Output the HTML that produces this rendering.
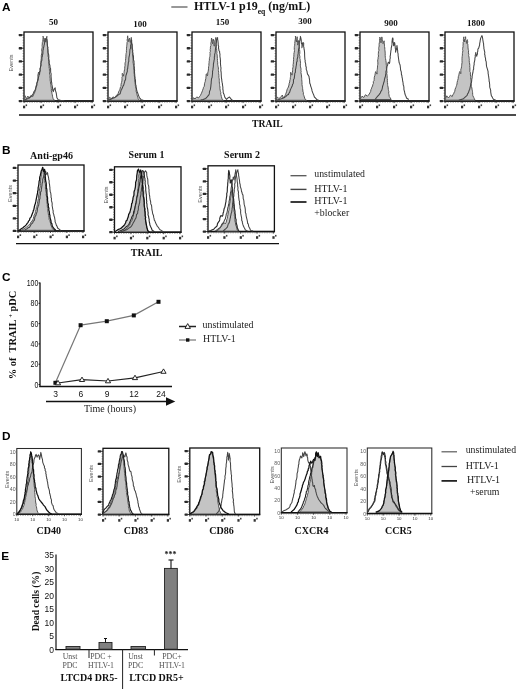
<!DOCTYPE html>
<html><head><meta charset="utf-8"><title>Figure</title>
<style>
html,body{margin:0;padding:0;background:#fff;}
body{width:520px;height:689px;overflow:hidden;font-family:"Liberation Serif",serif;}
svg{display:block;filter:blur(0.4px);}
</style></head>
<body>
<svg width="520" height="689" viewBox="0 0 520 689">
<rect x="0" y="0" width="520" height="689" fill="#fff"/>
<text x="2" y="11.3" font-family="Liberation Sans, sans-serif" font-size="11.8" font-weight="bold" text-anchor="start" fill="#000" >A</text>
<text x="2" y="153.8" font-family="Liberation Sans, sans-serif" font-size="11.8" font-weight="bold" text-anchor="start" fill="#000" >B</text>
<text x="2" y="280.6" font-family="Liberation Sans, sans-serif" font-size="11.8" font-weight="bold" text-anchor="start" fill="#000" >C</text>
<text x="2" y="439.5" font-family="Liberation Sans, sans-serif" font-size="11.8" font-weight="bold" text-anchor="start" fill="#000" >D</text>
<text x="1.3" y="559.8" font-family="Liberation Sans, sans-serif" font-size="11.8" font-weight="bold" text-anchor="start" fill="#000" >E</text>
<line x1="171.3" y1="7" x2="187.5" y2="7" stroke="#444" stroke-width="1.1"/>
<text x="194" y="10" font-family="Liberation Serif, serif" font-size="12" font-weight="bold" fill="#111">HTLV-1 p19<tspan font-size="7.6" dy="4.3">eq</tspan><tspan dy="-4.3"> (ng/mL)</tspan></text>
<text x="53.5" y="25" font-family="Liberation Serif, serif" font-size="9" font-weight="bold" text-anchor="middle" fill="#111" >50</text>
<text x="140" y="27" font-family="Liberation Serif, serif" font-size="9" font-weight="bold" text-anchor="middle" fill="#111" >100</text>
<text x="222.5" y="25" font-family="Liberation Serif, serif" font-size="9" font-weight="bold" text-anchor="middle" fill="#111" >150</text>
<text x="305" y="23.5" font-family="Liberation Serif, serif" font-size="9" font-weight="bold" text-anchor="middle" fill="#111" >300</text>
<text x="391" y="25.5" font-family="Liberation Serif, serif" font-size="9" font-weight="bold" text-anchor="middle" fill="#111" >900</text>
<text x="476" y="25.5" font-family="Liberation Serif, serif" font-size="9" font-weight="bold" text-anchor="middle" fill="#111" >1800</text>
<rect x="24" y="32" width="69" height="69.1" fill="none" stroke="#111" stroke-width="1.3"/>
<line x1="23.5" y1="101.1" x2="93.5" y2="101.1" stroke="#111" stroke-width="1.5"/>
<line x1="21.8" y1="101.1" x2="24" y2="101.1" stroke="#222" stroke-width="0.9"/>
<rect x="18.7" y="99.9" width="3.4" height="2.3" rx="0.6" fill="#2a2a2a"/>
<line x1="21.8" y1="87.9" x2="24" y2="87.9" stroke="#222" stroke-width="0.9"/>
<rect x="18.7" y="86.7" width="3.4" height="2.3" rx="0.6" fill="#2a2a2a"/>
<line x1="21.8" y1="74.7" x2="24" y2="74.7" stroke="#222" stroke-width="0.9"/>
<rect x="18.7" y="73.5" width="3.4" height="2.3" rx="0.6" fill="#2a2a2a"/>
<line x1="21.8" y1="61.4" x2="24" y2="61.4" stroke="#222" stroke-width="0.9"/>
<rect x="18.7" y="60.3" width="3.4" height="2.3" rx="0.6" fill="#2a2a2a"/>
<line x1="21.8" y1="48.2" x2="24" y2="48.2" stroke="#222" stroke-width="0.9"/>
<rect x="18.7" y="47.1" width="3.4" height="2.3" rx="0.6" fill="#2a2a2a"/>
<line x1="21.8" y1="35.0" x2="24" y2="35.0" stroke="#222" stroke-width="0.9"/>
<rect x="18.7" y="33.9" width="3.4" height="2.3" rx="0.6" fill="#2a2a2a"/>
<line x1="22.7" y1="98.5" x2="24" y2="98.5" stroke="#444" stroke-width="0.7"/>
<line x1="22.7" y1="95.8" x2="24" y2="95.8" stroke="#444" stroke-width="0.7"/>
<line x1="22.7" y1="93.2" x2="24" y2="93.2" stroke="#444" stroke-width="0.7"/>
<line x1="22.7" y1="90.5" x2="24" y2="90.5" stroke="#444" stroke-width="0.7"/>
<line x1="22.7" y1="85.2" x2="24" y2="85.2" stroke="#444" stroke-width="0.7"/>
<line x1="22.7" y1="82.6" x2="24" y2="82.6" stroke="#444" stroke-width="0.7"/>
<line x1="22.7" y1="79.9" x2="24" y2="79.9" stroke="#444" stroke-width="0.7"/>
<line x1="22.7" y1="77.3" x2="24" y2="77.3" stroke="#444" stroke-width="0.7"/>
<line x1="22.7" y1="72.0" x2="24" y2="72.0" stroke="#444" stroke-width="0.7"/>
<line x1="22.7" y1="69.4" x2="24" y2="69.4" stroke="#444" stroke-width="0.7"/>
<line x1="22.7" y1="66.7" x2="24" y2="66.7" stroke="#444" stroke-width="0.7"/>
<line x1="22.7" y1="64.1" x2="24" y2="64.1" stroke="#444" stroke-width="0.7"/>
<line x1="22.7" y1="58.8" x2="24" y2="58.8" stroke="#444" stroke-width="0.7"/>
<line x1="22.7" y1="56.2" x2="24" y2="56.2" stroke="#444" stroke-width="0.7"/>
<line x1="22.7" y1="53.5" x2="24" y2="53.5" stroke="#444" stroke-width="0.7"/>
<line x1="22.7" y1="50.9" x2="24" y2="50.9" stroke="#444" stroke-width="0.7"/>
<line x1="22.7" y1="45.6" x2="24" y2="45.6" stroke="#444" stroke-width="0.7"/>
<line x1="22.7" y1="42.9" x2="24" y2="42.9" stroke="#444" stroke-width="0.7"/>
<line x1="22.7" y1="40.3" x2="24" y2="40.3" stroke="#444" stroke-width="0.7"/>
<line x1="22.7" y1="37.6" x2="24" y2="37.6" stroke="#444" stroke-width="0.7"/>
<line x1="24.0" y1="101.1" x2="24.0" y2="103.1" stroke="#222" stroke-width="0.8"/>
<rect x="23.0" y="105.7" width="2.2" height="2.6" fill="#333"/>
<rect x="25.6" y="104.4" width="1.5" height="1.7" fill="#444"/>
<line x1="41.0" y1="101.1" x2="41.0" y2="103.1" stroke="#222" stroke-width="0.8"/>
<rect x="40.0" y="105.7" width="2.2" height="2.6" fill="#333"/>
<rect x="42.6" y="104.4" width="1.5" height="1.7" fill="#444"/>
<line x1="58.0" y1="101.1" x2="58.0" y2="103.1" stroke="#222" stroke-width="0.8"/>
<rect x="57.0" y="105.7" width="2.2" height="2.6" fill="#333"/>
<rect x="59.6" y="104.4" width="1.5" height="1.7" fill="#444"/>
<line x1="75.0" y1="101.1" x2="75.0" y2="103.1" stroke="#222" stroke-width="0.8"/>
<rect x="74.0" y="105.7" width="2.2" height="2.6" fill="#333"/>
<rect x="76.6" y="104.4" width="1.5" height="1.7" fill="#444"/>
<line x1="92.0" y1="101.1" x2="92.0" y2="103.1" stroke="#222" stroke-width="0.8"/>
<rect x="91.0" y="105.7" width="2.2" height="2.6" fill="#333"/>
<rect x="93.6" y="104.4" width="1.5" height="1.7" fill="#444"/>
<line x1="24" y1="102.3" x2="93" y2="102.3" stroke="#666" stroke-width="1" stroke-dasharray="0.5,1.2"/>
<text transform="translate(12.5,63.05) rotate(-90)" font-family="Liberation Sans, sans-serif" font-size="5.6" text-anchor="middle" fill="#555">Events</text>
<rect x="108" y="32" width="69" height="69.1" fill="none" stroke="#111" stroke-width="1.3"/>
<line x1="107.5" y1="101.1" x2="177.5" y2="101.1" stroke="#111" stroke-width="1.5"/>
<line x1="105.8" y1="101.1" x2="108" y2="101.1" stroke="#222" stroke-width="0.9"/>
<rect x="102.7" y="99.9" width="3.4" height="2.3" rx="0.6" fill="#2a2a2a"/>
<line x1="105.8" y1="87.9" x2="108" y2="87.9" stroke="#222" stroke-width="0.9"/>
<rect x="102.7" y="86.7" width="3.4" height="2.3" rx="0.6" fill="#2a2a2a"/>
<line x1="105.8" y1="74.7" x2="108" y2="74.7" stroke="#222" stroke-width="0.9"/>
<rect x="102.7" y="73.5" width="3.4" height="2.3" rx="0.6" fill="#2a2a2a"/>
<line x1="105.8" y1="61.4" x2="108" y2="61.4" stroke="#222" stroke-width="0.9"/>
<rect x="102.7" y="60.3" width="3.4" height="2.3" rx="0.6" fill="#2a2a2a"/>
<line x1="105.8" y1="48.2" x2="108" y2="48.2" stroke="#222" stroke-width="0.9"/>
<rect x="102.7" y="47.1" width="3.4" height="2.3" rx="0.6" fill="#2a2a2a"/>
<line x1="105.8" y1="35.0" x2="108" y2="35.0" stroke="#222" stroke-width="0.9"/>
<rect x="102.7" y="33.9" width="3.4" height="2.3" rx="0.6" fill="#2a2a2a"/>
<line x1="106.7" y1="98.5" x2="108" y2="98.5" stroke="#444" stroke-width="0.7"/>
<line x1="106.7" y1="95.8" x2="108" y2="95.8" stroke="#444" stroke-width="0.7"/>
<line x1="106.7" y1="93.2" x2="108" y2="93.2" stroke="#444" stroke-width="0.7"/>
<line x1="106.7" y1="90.5" x2="108" y2="90.5" stroke="#444" stroke-width="0.7"/>
<line x1="106.7" y1="85.2" x2="108" y2="85.2" stroke="#444" stroke-width="0.7"/>
<line x1="106.7" y1="82.6" x2="108" y2="82.6" stroke="#444" stroke-width="0.7"/>
<line x1="106.7" y1="79.9" x2="108" y2="79.9" stroke="#444" stroke-width="0.7"/>
<line x1="106.7" y1="77.3" x2="108" y2="77.3" stroke="#444" stroke-width="0.7"/>
<line x1="106.7" y1="72.0" x2="108" y2="72.0" stroke="#444" stroke-width="0.7"/>
<line x1="106.7" y1="69.4" x2="108" y2="69.4" stroke="#444" stroke-width="0.7"/>
<line x1="106.7" y1="66.7" x2="108" y2="66.7" stroke="#444" stroke-width="0.7"/>
<line x1="106.7" y1="64.1" x2="108" y2="64.1" stroke="#444" stroke-width="0.7"/>
<line x1="106.7" y1="58.8" x2="108" y2="58.8" stroke="#444" stroke-width="0.7"/>
<line x1="106.7" y1="56.2" x2="108" y2="56.2" stroke="#444" stroke-width="0.7"/>
<line x1="106.7" y1="53.5" x2="108" y2="53.5" stroke="#444" stroke-width="0.7"/>
<line x1="106.7" y1="50.9" x2="108" y2="50.9" stroke="#444" stroke-width="0.7"/>
<line x1="106.7" y1="45.6" x2="108" y2="45.6" stroke="#444" stroke-width="0.7"/>
<line x1="106.7" y1="42.9" x2="108" y2="42.9" stroke="#444" stroke-width="0.7"/>
<line x1="106.7" y1="40.3" x2="108" y2="40.3" stroke="#444" stroke-width="0.7"/>
<line x1="106.7" y1="37.6" x2="108" y2="37.6" stroke="#444" stroke-width="0.7"/>
<line x1="108.0" y1="101.1" x2="108.0" y2="103.1" stroke="#222" stroke-width="0.8"/>
<rect x="107.0" y="105.7" width="2.2" height="2.6" fill="#333"/>
<rect x="109.6" y="104.4" width="1.5" height="1.7" fill="#444"/>
<line x1="125.0" y1="101.1" x2="125.0" y2="103.1" stroke="#222" stroke-width="0.8"/>
<rect x="124.0" y="105.7" width="2.2" height="2.6" fill="#333"/>
<rect x="126.6" y="104.4" width="1.5" height="1.7" fill="#444"/>
<line x1="142.0" y1="101.1" x2="142.0" y2="103.1" stroke="#222" stroke-width="0.8"/>
<rect x="141.0" y="105.7" width="2.2" height="2.6" fill="#333"/>
<rect x="143.6" y="104.4" width="1.5" height="1.7" fill="#444"/>
<line x1="159.0" y1="101.1" x2="159.0" y2="103.1" stroke="#222" stroke-width="0.8"/>
<rect x="158.0" y="105.7" width="2.2" height="2.6" fill="#333"/>
<rect x="160.6" y="104.4" width="1.5" height="1.7" fill="#444"/>
<line x1="176.0" y1="101.1" x2="176.0" y2="103.1" stroke="#222" stroke-width="0.8"/>
<rect x="175.0" y="105.7" width="2.2" height="2.6" fill="#333"/>
<rect x="177.6" y="104.4" width="1.5" height="1.7" fill="#444"/>
<line x1="108" y1="102.3" x2="177" y2="102.3" stroke="#666" stroke-width="1" stroke-dasharray="0.5,1.2"/>
<rect x="192" y="32" width="69" height="69.1" fill="none" stroke="#111" stroke-width="1.3"/>
<line x1="191.5" y1="101.1" x2="261.5" y2="101.1" stroke="#111" stroke-width="1.5"/>
<line x1="189.8" y1="101.1" x2="192" y2="101.1" stroke="#222" stroke-width="0.9"/>
<rect x="186.7" y="99.9" width="3.4" height="2.3" rx="0.6" fill="#2a2a2a"/>
<line x1="189.8" y1="87.9" x2="192" y2="87.9" stroke="#222" stroke-width="0.9"/>
<rect x="186.7" y="86.7" width="3.4" height="2.3" rx="0.6" fill="#2a2a2a"/>
<line x1="189.8" y1="74.7" x2="192" y2="74.7" stroke="#222" stroke-width="0.9"/>
<rect x="186.7" y="73.5" width="3.4" height="2.3" rx="0.6" fill="#2a2a2a"/>
<line x1="189.8" y1="61.4" x2="192" y2="61.4" stroke="#222" stroke-width="0.9"/>
<rect x="186.7" y="60.3" width="3.4" height="2.3" rx="0.6" fill="#2a2a2a"/>
<line x1="189.8" y1="48.2" x2="192" y2="48.2" stroke="#222" stroke-width="0.9"/>
<rect x="186.7" y="47.1" width="3.4" height="2.3" rx="0.6" fill="#2a2a2a"/>
<line x1="189.8" y1="35.0" x2="192" y2="35.0" stroke="#222" stroke-width="0.9"/>
<rect x="186.7" y="33.9" width="3.4" height="2.3" rx="0.6" fill="#2a2a2a"/>
<line x1="190.7" y1="98.5" x2="192" y2="98.5" stroke="#444" stroke-width="0.7"/>
<line x1="190.7" y1="95.8" x2="192" y2="95.8" stroke="#444" stroke-width="0.7"/>
<line x1="190.7" y1="93.2" x2="192" y2="93.2" stroke="#444" stroke-width="0.7"/>
<line x1="190.7" y1="90.5" x2="192" y2="90.5" stroke="#444" stroke-width="0.7"/>
<line x1="190.7" y1="85.2" x2="192" y2="85.2" stroke="#444" stroke-width="0.7"/>
<line x1="190.7" y1="82.6" x2="192" y2="82.6" stroke="#444" stroke-width="0.7"/>
<line x1="190.7" y1="79.9" x2="192" y2="79.9" stroke="#444" stroke-width="0.7"/>
<line x1="190.7" y1="77.3" x2="192" y2="77.3" stroke="#444" stroke-width="0.7"/>
<line x1="190.7" y1="72.0" x2="192" y2="72.0" stroke="#444" stroke-width="0.7"/>
<line x1="190.7" y1="69.4" x2="192" y2="69.4" stroke="#444" stroke-width="0.7"/>
<line x1="190.7" y1="66.7" x2="192" y2="66.7" stroke="#444" stroke-width="0.7"/>
<line x1="190.7" y1="64.1" x2="192" y2="64.1" stroke="#444" stroke-width="0.7"/>
<line x1="190.7" y1="58.8" x2="192" y2="58.8" stroke="#444" stroke-width="0.7"/>
<line x1="190.7" y1="56.2" x2="192" y2="56.2" stroke="#444" stroke-width="0.7"/>
<line x1="190.7" y1="53.5" x2="192" y2="53.5" stroke="#444" stroke-width="0.7"/>
<line x1="190.7" y1="50.9" x2="192" y2="50.9" stroke="#444" stroke-width="0.7"/>
<line x1="190.7" y1="45.6" x2="192" y2="45.6" stroke="#444" stroke-width="0.7"/>
<line x1="190.7" y1="42.9" x2="192" y2="42.9" stroke="#444" stroke-width="0.7"/>
<line x1="190.7" y1="40.3" x2="192" y2="40.3" stroke="#444" stroke-width="0.7"/>
<line x1="190.7" y1="37.6" x2="192" y2="37.6" stroke="#444" stroke-width="0.7"/>
<line x1="192.0" y1="101.1" x2="192.0" y2="103.1" stroke="#222" stroke-width="0.8"/>
<rect x="191.0" y="105.7" width="2.2" height="2.6" fill="#333"/>
<rect x="193.6" y="104.4" width="1.5" height="1.7" fill="#444"/>
<line x1="209.0" y1="101.1" x2="209.0" y2="103.1" stroke="#222" stroke-width="0.8"/>
<rect x="208.0" y="105.7" width="2.2" height="2.6" fill="#333"/>
<rect x="210.6" y="104.4" width="1.5" height="1.7" fill="#444"/>
<line x1="226.0" y1="101.1" x2="226.0" y2="103.1" stroke="#222" stroke-width="0.8"/>
<rect x="225.0" y="105.7" width="2.2" height="2.6" fill="#333"/>
<rect x="227.6" y="104.4" width="1.5" height="1.7" fill="#444"/>
<line x1="243.0" y1="101.1" x2="243.0" y2="103.1" stroke="#222" stroke-width="0.8"/>
<rect x="242.0" y="105.7" width="2.2" height="2.6" fill="#333"/>
<rect x="244.6" y="104.4" width="1.5" height="1.7" fill="#444"/>
<line x1="260.0" y1="101.1" x2="260.0" y2="103.1" stroke="#222" stroke-width="0.8"/>
<rect x="259.0" y="105.7" width="2.2" height="2.6" fill="#333"/>
<rect x="261.6" y="104.4" width="1.5" height="1.7" fill="#444"/>
<line x1="192" y1="102.3" x2="261" y2="102.3" stroke="#666" stroke-width="1" stroke-dasharray="0.5,1.2"/>
<rect x="276" y="32" width="69" height="69.1" fill="none" stroke="#111" stroke-width="1.3"/>
<line x1="275.5" y1="101.1" x2="345.5" y2="101.1" stroke="#111" stroke-width="1.5"/>
<line x1="273.8" y1="101.1" x2="276" y2="101.1" stroke="#222" stroke-width="0.9"/>
<rect x="270.7" y="99.9" width="3.4" height="2.3" rx="0.6" fill="#2a2a2a"/>
<line x1="273.8" y1="87.9" x2="276" y2="87.9" stroke="#222" stroke-width="0.9"/>
<rect x="270.7" y="86.7" width="3.4" height="2.3" rx="0.6" fill="#2a2a2a"/>
<line x1="273.8" y1="74.7" x2="276" y2="74.7" stroke="#222" stroke-width="0.9"/>
<rect x="270.7" y="73.5" width="3.4" height="2.3" rx="0.6" fill="#2a2a2a"/>
<line x1="273.8" y1="61.4" x2="276" y2="61.4" stroke="#222" stroke-width="0.9"/>
<rect x="270.7" y="60.3" width="3.4" height="2.3" rx="0.6" fill="#2a2a2a"/>
<line x1="273.8" y1="48.2" x2="276" y2="48.2" stroke="#222" stroke-width="0.9"/>
<rect x="270.7" y="47.1" width="3.4" height="2.3" rx="0.6" fill="#2a2a2a"/>
<line x1="273.8" y1="35.0" x2="276" y2="35.0" stroke="#222" stroke-width="0.9"/>
<rect x="270.7" y="33.9" width="3.4" height="2.3" rx="0.6" fill="#2a2a2a"/>
<line x1="274.7" y1="98.5" x2="276" y2="98.5" stroke="#444" stroke-width="0.7"/>
<line x1="274.7" y1="95.8" x2="276" y2="95.8" stroke="#444" stroke-width="0.7"/>
<line x1="274.7" y1="93.2" x2="276" y2="93.2" stroke="#444" stroke-width="0.7"/>
<line x1="274.7" y1="90.5" x2="276" y2="90.5" stroke="#444" stroke-width="0.7"/>
<line x1="274.7" y1="85.2" x2="276" y2="85.2" stroke="#444" stroke-width="0.7"/>
<line x1="274.7" y1="82.6" x2="276" y2="82.6" stroke="#444" stroke-width="0.7"/>
<line x1="274.7" y1="79.9" x2="276" y2="79.9" stroke="#444" stroke-width="0.7"/>
<line x1="274.7" y1="77.3" x2="276" y2="77.3" stroke="#444" stroke-width="0.7"/>
<line x1="274.7" y1="72.0" x2="276" y2="72.0" stroke="#444" stroke-width="0.7"/>
<line x1="274.7" y1="69.4" x2="276" y2="69.4" stroke="#444" stroke-width="0.7"/>
<line x1="274.7" y1="66.7" x2="276" y2="66.7" stroke="#444" stroke-width="0.7"/>
<line x1="274.7" y1="64.1" x2="276" y2="64.1" stroke="#444" stroke-width="0.7"/>
<line x1="274.7" y1="58.8" x2="276" y2="58.8" stroke="#444" stroke-width="0.7"/>
<line x1="274.7" y1="56.2" x2="276" y2="56.2" stroke="#444" stroke-width="0.7"/>
<line x1="274.7" y1="53.5" x2="276" y2="53.5" stroke="#444" stroke-width="0.7"/>
<line x1="274.7" y1="50.9" x2="276" y2="50.9" stroke="#444" stroke-width="0.7"/>
<line x1="274.7" y1="45.6" x2="276" y2="45.6" stroke="#444" stroke-width="0.7"/>
<line x1="274.7" y1="42.9" x2="276" y2="42.9" stroke="#444" stroke-width="0.7"/>
<line x1="274.7" y1="40.3" x2="276" y2="40.3" stroke="#444" stroke-width="0.7"/>
<line x1="274.7" y1="37.6" x2="276" y2="37.6" stroke="#444" stroke-width="0.7"/>
<line x1="276.0" y1="101.1" x2="276.0" y2="103.1" stroke="#222" stroke-width="0.8"/>
<rect x="275.0" y="105.7" width="2.2" height="2.6" fill="#333"/>
<rect x="277.6" y="104.4" width="1.5" height="1.7" fill="#444"/>
<line x1="293.0" y1="101.1" x2="293.0" y2="103.1" stroke="#222" stroke-width="0.8"/>
<rect x="292.0" y="105.7" width="2.2" height="2.6" fill="#333"/>
<rect x="294.6" y="104.4" width="1.5" height="1.7" fill="#444"/>
<line x1="310.0" y1="101.1" x2="310.0" y2="103.1" stroke="#222" stroke-width="0.8"/>
<rect x="309.0" y="105.7" width="2.2" height="2.6" fill="#333"/>
<rect x="311.6" y="104.4" width="1.5" height="1.7" fill="#444"/>
<line x1="327.0" y1="101.1" x2="327.0" y2="103.1" stroke="#222" stroke-width="0.8"/>
<rect x="326.0" y="105.7" width="2.2" height="2.6" fill="#333"/>
<rect x="328.6" y="104.4" width="1.5" height="1.7" fill="#444"/>
<line x1="344.0" y1="101.1" x2="344.0" y2="103.1" stroke="#222" stroke-width="0.8"/>
<rect x="343.0" y="105.7" width="2.2" height="2.6" fill="#333"/>
<rect x="345.6" y="104.4" width="1.5" height="1.7" fill="#444"/>
<line x1="276" y1="102.3" x2="345" y2="102.3" stroke="#666" stroke-width="1" stroke-dasharray="0.5,1.2"/>
<rect x="360" y="32" width="69" height="69.1" fill="none" stroke="#111" stroke-width="1.3"/>
<line x1="359.5" y1="101.1" x2="429.5" y2="101.1" stroke="#111" stroke-width="1.5"/>
<line x1="357.8" y1="101.1" x2="360" y2="101.1" stroke="#222" stroke-width="0.9"/>
<rect x="354.7" y="99.9" width="3.4" height="2.3" rx="0.6" fill="#2a2a2a"/>
<line x1="357.8" y1="87.9" x2="360" y2="87.9" stroke="#222" stroke-width="0.9"/>
<rect x="354.7" y="86.7" width="3.4" height="2.3" rx="0.6" fill="#2a2a2a"/>
<line x1="357.8" y1="74.7" x2="360" y2="74.7" stroke="#222" stroke-width="0.9"/>
<rect x="354.7" y="73.5" width="3.4" height="2.3" rx="0.6" fill="#2a2a2a"/>
<line x1="357.8" y1="61.4" x2="360" y2="61.4" stroke="#222" stroke-width="0.9"/>
<rect x="354.7" y="60.3" width="3.4" height="2.3" rx="0.6" fill="#2a2a2a"/>
<line x1="357.8" y1="48.2" x2="360" y2="48.2" stroke="#222" stroke-width="0.9"/>
<rect x="354.7" y="47.1" width="3.4" height="2.3" rx="0.6" fill="#2a2a2a"/>
<line x1="357.8" y1="35.0" x2="360" y2="35.0" stroke="#222" stroke-width="0.9"/>
<rect x="354.7" y="33.9" width="3.4" height="2.3" rx="0.6" fill="#2a2a2a"/>
<line x1="358.7" y1="98.5" x2="360" y2="98.5" stroke="#444" stroke-width="0.7"/>
<line x1="358.7" y1="95.8" x2="360" y2="95.8" stroke="#444" stroke-width="0.7"/>
<line x1="358.7" y1="93.2" x2="360" y2="93.2" stroke="#444" stroke-width="0.7"/>
<line x1="358.7" y1="90.5" x2="360" y2="90.5" stroke="#444" stroke-width="0.7"/>
<line x1="358.7" y1="85.2" x2="360" y2="85.2" stroke="#444" stroke-width="0.7"/>
<line x1="358.7" y1="82.6" x2="360" y2="82.6" stroke="#444" stroke-width="0.7"/>
<line x1="358.7" y1="79.9" x2="360" y2="79.9" stroke="#444" stroke-width="0.7"/>
<line x1="358.7" y1="77.3" x2="360" y2="77.3" stroke="#444" stroke-width="0.7"/>
<line x1="358.7" y1="72.0" x2="360" y2="72.0" stroke="#444" stroke-width="0.7"/>
<line x1="358.7" y1="69.4" x2="360" y2="69.4" stroke="#444" stroke-width="0.7"/>
<line x1="358.7" y1="66.7" x2="360" y2="66.7" stroke="#444" stroke-width="0.7"/>
<line x1="358.7" y1="64.1" x2="360" y2="64.1" stroke="#444" stroke-width="0.7"/>
<line x1="358.7" y1="58.8" x2="360" y2="58.8" stroke="#444" stroke-width="0.7"/>
<line x1="358.7" y1="56.2" x2="360" y2="56.2" stroke="#444" stroke-width="0.7"/>
<line x1="358.7" y1="53.5" x2="360" y2="53.5" stroke="#444" stroke-width="0.7"/>
<line x1="358.7" y1="50.9" x2="360" y2="50.9" stroke="#444" stroke-width="0.7"/>
<line x1="358.7" y1="45.6" x2="360" y2="45.6" stroke="#444" stroke-width="0.7"/>
<line x1="358.7" y1="42.9" x2="360" y2="42.9" stroke="#444" stroke-width="0.7"/>
<line x1="358.7" y1="40.3" x2="360" y2="40.3" stroke="#444" stroke-width="0.7"/>
<line x1="358.7" y1="37.6" x2="360" y2="37.6" stroke="#444" stroke-width="0.7"/>
<line x1="360.0" y1="101.1" x2="360.0" y2="103.1" stroke="#222" stroke-width="0.8"/>
<rect x="359.0" y="105.7" width="2.2" height="2.6" fill="#333"/>
<rect x="361.6" y="104.4" width="1.5" height="1.7" fill="#444"/>
<line x1="377.0" y1="101.1" x2="377.0" y2="103.1" stroke="#222" stroke-width="0.8"/>
<rect x="376.0" y="105.7" width="2.2" height="2.6" fill="#333"/>
<rect x="378.6" y="104.4" width="1.5" height="1.7" fill="#444"/>
<line x1="394.0" y1="101.1" x2="394.0" y2="103.1" stroke="#222" stroke-width="0.8"/>
<rect x="393.0" y="105.7" width="2.2" height="2.6" fill="#333"/>
<rect x="395.6" y="104.4" width="1.5" height="1.7" fill="#444"/>
<line x1="411.0" y1="101.1" x2="411.0" y2="103.1" stroke="#222" stroke-width="0.8"/>
<rect x="410.0" y="105.7" width="2.2" height="2.6" fill="#333"/>
<rect x="412.6" y="104.4" width="1.5" height="1.7" fill="#444"/>
<line x1="428.0" y1="101.1" x2="428.0" y2="103.1" stroke="#222" stroke-width="0.8"/>
<rect x="427.0" y="105.7" width="2.2" height="2.6" fill="#333"/>
<rect x="429.6" y="104.4" width="1.5" height="1.7" fill="#444"/>
<line x1="360" y1="102.3" x2="429" y2="102.3" stroke="#666" stroke-width="1" stroke-dasharray="0.5,1.2"/>
<rect x="445" y="32" width="69" height="69.1" fill="none" stroke="#111" stroke-width="1.3"/>
<line x1="444.5" y1="101.1" x2="514.5" y2="101.1" stroke="#111" stroke-width="1.5"/>
<line x1="442.8" y1="101.1" x2="445" y2="101.1" stroke="#222" stroke-width="0.9"/>
<rect x="439.7" y="99.9" width="3.4" height="2.3" rx="0.6" fill="#2a2a2a"/>
<line x1="442.8" y1="87.9" x2="445" y2="87.9" stroke="#222" stroke-width="0.9"/>
<rect x="439.7" y="86.7" width="3.4" height="2.3" rx="0.6" fill="#2a2a2a"/>
<line x1="442.8" y1="74.7" x2="445" y2="74.7" stroke="#222" stroke-width="0.9"/>
<rect x="439.7" y="73.5" width="3.4" height="2.3" rx="0.6" fill="#2a2a2a"/>
<line x1="442.8" y1="61.4" x2="445" y2="61.4" stroke="#222" stroke-width="0.9"/>
<rect x="439.7" y="60.3" width="3.4" height="2.3" rx="0.6" fill="#2a2a2a"/>
<line x1="442.8" y1="48.2" x2="445" y2="48.2" stroke="#222" stroke-width="0.9"/>
<rect x="439.7" y="47.1" width="3.4" height="2.3" rx="0.6" fill="#2a2a2a"/>
<line x1="442.8" y1="35.0" x2="445" y2="35.0" stroke="#222" stroke-width="0.9"/>
<rect x="439.7" y="33.9" width="3.4" height="2.3" rx="0.6" fill="#2a2a2a"/>
<line x1="443.7" y1="98.5" x2="445" y2="98.5" stroke="#444" stroke-width="0.7"/>
<line x1="443.7" y1="95.8" x2="445" y2="95.8" stroke="#444" stroke-width="0.7"/>
<line x1="443.7" y1="93.2" x2="445" y2="93.2" stroke="#444" stroke-width="0.7"/>
<line x1="443.7" y1="90.5" x2="445" y2="90.5" stroke="#444" stroke-width="0.7"/>
<line x1="443.7" y1="85.2" x2="445" y2="85.2" stroke="#444" stroke-width="0.7"/>
<line x1="443.7" y1="82.6" x2="445" y2="82.6" stroke="#444" stroke-width="0.7"/>
<line x1="443.7" y1="79.9" x2="445" y2="79.9" stroke="#444" stroke-width="0.7"/>
<line x1="443.7" y1="77.3" x2="445" y2="77.3" stroke="#444" stroke-width="0.7"/>
<line x1="443.7" y1="72.0" x2="445" y2="72.0" stroke="#444" stroke-width="0.7"/>
<line x1="443.7" y1="69.4" x2="445" y2="69.4" stroke="#444" stroke-width="0.7"/>
<line x1="443.7" y1="66.7" x2="445" y2="66.7" stroke="#444" stroke-width="0.7"/>
<line x1="443.7" y1="64.1" x2="445" y2="64.1" stroke="#444" stroke-width="0.7"/>
<line x1="443.7" y1="58.8" x2="445" y2="58.8" stroke="#444" stroke-width="0.7"/>
<line x1="443.7" y1="56.2" x2="445" y2="56.2" stroke="#444" stroke-width="0.7"/>
<line x1="443.7" y1="53.5" x2="445" y2="53.5" stroke="#444" stroke-width="0.7"/>
<line x1="443.7" y1="50.9" x2="445" y2="50.9" stroke="#444" stroke-width="0.7"/>
<line x1="443.7" y1="45.6" x2="445" y2="45.6" stroke="#444" stroke-width="0.7"/>
<line x1="443.7" y1="42.9" x2="445" y2="42.9" stroke="#444" stroke-width="0.7"/>
<line x1="443.7" y1="40.3" x2="445" y2="40.3" stroke="#444" stroke-width="0.7"/>
<line x1="443.7" y1="37.6" x2="445" y2="37.6" stroke="#444" stroke-width="0.7"/>
<line x1="445.0" y1="101.1" x2="445.0" y2="103.1" stroke="#222" stroke-width="0.8"/>
<rect x="444.0" y="105.7" width="2.2" height="2.6" fill="#333"/>
<rect x="446.6" y="104.4" width="1.5" height="1.7" fill="#444"/>
<line x1="462.0" y1="101.1" x2="462.0" y2="103.1" stroke="#222" stroke-width="0.8"/>
<rect x="461.0" y="105.7" width="2.2" height="2.6" fill="#333"/>
<rect x="463.6" y="104.4" width="1.5" height="1.7" fill="#444"/>
<line x1="479.0" y1="101.1" x2="479.0" y2="103.1" stroke="#222" stroke-width="0.8"/>
<rect x="478.0" y="105.7" width="2.2" height="2.6" fill="#333"/>
<rect x="480.6" y="104.4" width="1.5" height="1.7" fill="#444"/>
<line x1="496.0" y1="101.1" x2="496.0" y2="103.1" stroke="#222" stroke-width="0.8"/>
<rect x="495.0" y="105.7" width="2.2" height="2.6" fill="#333"/>
<rect x="497.6" y="104.4" width="1.5" height="1.7" fill="#444"/>
<line x1="513.0" y1="101.1" x2="513.0" y2="103.1" stroke="#222" stroke-width="0.8"/>
<rect x="512.0" y="105.7" width="2.2" height="2.6" fill="#333"/>
<rect x="514.6" y="104.4" width="1.5" height="1.7" fill="#444"/>
<line x1="445" y1="102.3" x2="514" y2="102.3" stroke="#666" stroke-width="1" stroke-dasharray="0.5,1.2"/>
<line x1="19" y1="115" x2="516" y2="115" stroke="#111" stroke-width="1.4"/>
<text x="267.4" y="127.2" font-family="Liberation Serif, serif" font-size="9.7" font-weight="bold" text-anchor="middle" fill="#111" >TRAIL</text>
<path d="M24.0,100.3 L24.4,98.8 L24.7,97.2 L25.0,95.7 L25.7,97.4 L26.4,98.6 L27.1,97.4 L27.9,96.1 L28.5,97.2 L29.2,98.4 L30.1,97.0 L30.8,95.5 L32.7,96.7 L33.5,94.8 L34.4,93.2 L34.9,91.9 L35.3,90.7 L35.7,89.9 L35.9,87.8 L36.3,87.3 L36.8,85.2 L36.9,84.3 L36.9,83.4 L37.4,81.5 L37.6,80.0 L37.7,78.6 L38.0,78.0 L37.9,76.8 L37.9,74.8 L38.2,73.9 L38.5,72.1 L39.1,73.9 L39.5,74.9 L39.7,73.2 L39.9,72.0 L40.2,70.7 L40.1,69.8 L40.3,67.9 L40.8,66.7 L40.8,64.8 L40.6,63.6 L40.9,62.8 L41.0,60.8 L41.1,59.5 L41.3,58.4 L41.3,57.2 L41.3,55.3 L41.7,54.0 L41.9,52.9 L41.9,51.7 L41.7,50.9 L41.9,48.5 L42.2,47.6 L42.2,46.6 L42.1,45.5 L42.3,44.0 L42.3,42.7 L42.8,41.3 L42.9,39.8 L43.2,37.4 L43.0,36.2 L43.4,37.7 L43.5,38.8 L43.9,39.7 L43.9,41.4 L44.6,39.6 L44.9,38.2 L45.2,39.3 L45.4,40.6 L45.6,42.2 L46.1,41.2 L46.0,39.7 L46.4,38.0 L46.9,36.3 L46.8,38.5 L46.8,40.0 L47.0,41.0 L47.2,43.0 L47.3,43.7 L47.5,46.2 L47.7,47.5 L47.5,48.1 L47.9,49.7 L48.0,50.8 L47.9,52.6 L48.2,53.7 L48.0,55.2 L48.1,56.5 L48.5,57.3 L48.4,59.1 L48.6,59.8 L48.7,61.7 L48.9,63.1 L48.9,64.3 L48.9,65.1 L49.1,66.5 L49.1,68.2 L49.4,68.6 L49.4,70.2 L49.7,71.3 L49.5,72.8 L49.7,74.6 L50.0,75.4 L49.9,76.8 L50.2,78.9 L50.1,80.1 L50.4,81.6 L50.5,83.0 L50.8,84.4 L50.9,85.4 L51.2,87.2 L51.3,88.6 L51.4,89.0 L51.3,90.9 L51.8,92.0 L52.0,93.7 L52.2,94.3 L52.5,96.2 L52.7,97.2 L53.1,98.6 L54.4,100.3 Z" fill="#c4c4c4" stroke="#555" stroke-width="1.0" stroke-linejoin="round"/>
<path d="M24.0,100.3 L25.3,99.7 L26.7,99.0 L28.0,98.4 L29.2,97.8 L30.7,96.8 L31.9,95.7 L32.7,94.7 L33.4,93.3 L34.2,91.3 L35.0,90.3 L35.4,89.1 L35.8,87.6 L36.0,86.0 L36.7,85.2 L36.8,83.4 L37.4,81.8 L38.0,80.3 L38.4,78.7 L38.3,78.0 L38.9,75.9 L39.1,74.1 L39.3,73.7 L39.5,72.0 L40.2,70.6 L40.0,68.8 L40.5,67.4 L40.5,66.0 L41.1,65.2 L41.0,63.8 L41.1,62.8 L41.3,61.4 L41.9,60.2 L41.9,58.2 L41.9,57.6 L42.5,55.9 L42.3,55.4 L42.9,53.8 L42.9,51.9 L43.0,50.3 L43.3,49.6 L43.3,48.3 L43.9,46.5 L44.0,45.4 L44.5,43.9 L44.3,42.8 L44.7,41.8 L45.2,40.1 L45.7,38.8 L46.9,39.3 L47.1,40.6 L47.2,41.8 L47.3,43.9 L47.3,45.1 L47.5,46.5 L47.9,47.2 L47.8,48.8 L47.9,50.8 L48.0,52.0 L48.2,53.6 L48.6,54.2 L48.8,55.8 L48.8,58.0 L48.7,58.2 L48.9,59.7 L49.3,61.5 L49.1,62.5 L49.3,64.0 L49.9,65.2 L50.1,67.6 L50.6,68.8 L50.6,70.7 L50.7,72.4 L51.1,73.7 L51.1,75.3 L51.0,75.9 L51.2,77.8 L51.3,79.4 L51.4,81.0 L51.5,81.6 L51.8,83.4 L51.8,84.7 L52.3,86.2 L52.4,87.7 L52.6,88.5 L52.8,90.7 L53.3,91.6 L53.5,90.8 L54.1,89.2 L55.2,87.9 L55.3,89.8 L55.7,91.3 L56.1,92.5 L56.3,93.4 L56.5,95.0 L56.7,96.2 L56.9,97.8 L58.2,99.8 L59.6,100.1 L60.8,100.4 L62.6,100.4 L64.3,100.4" fill="none" stroke="#444" stroke-width="1.05" stroke-linejoin="round"/>
<path d="M108.3,100.3 L108.9,98.8 L109.5,97.3 L111.3,98.6 L112.9,96.9 L114.7,97.7 L115.7,96.2 L116.3,95.4 L118.2,93.7 L118.6,91.8 L119.3,90.6 L120.0,89.2 L120.4,87.1 L121.0,86.5 L121.0,84.6 L121.5,82.4 L121.7,82.1 L122.0,80.1 L122.0,78.7 L121.9,77.5 L122.4,76.3 L122.2,74.4 L122.3,73.3 L123.2,74.7 L123.7,76.2 L123.7,75.1 L124.0,73.5 L124.1,72.3 L124.2,71.2 L124.7,69.2 L124.7,68.7 L124.8,66.8 L125.1,65.3 L125.0,63.9 L125.1,62.8 L125.6,61.7 L125.5,60.5 L125.7,58.7 L125.9,56.9 L125.9,56.0 L126.0,54.3 L126.1,53.5 L126.4,52.5 L126.4,50.5 L126.5,49.9 L126.5,48.2 L126.7,46.7 L126.8,45.3 L127.0,44.1 L127.0,42.7 L127.4,41.4 L127.1,40.0 L127.5,38.3 L127.4,37.0 L127.7,35.8 L127.9,38.1 L128.1,38.8 L128.3,40.1 L128.7,41.7 L128.9,39.9 L129.6,38.1 L129.6,39.0 L130.1,41.0 L130.3,42.5 L130.5,41.4 L130.9,40.0 L131.1,38.3 L131.3,37.4 L131.4,38.1 L131.6,40.3 L131.4,42.0 L131.4,43.1 L131.9,44.4 L131.8,45.4 L131.8,46.6 L131.9,48.0 L132.3,50.2 L132.4,50.9 L132.4,52.5 L132.6,53.5 L132.5,54.9 L132.8,56.0 L132.7,57.6 L133.1,58.9 L133.1,60.4 L133.1,60.9 L133.0,62.2 L133.3,63.7 L133.5,65.5 L133.6,66.3 L133.7,67.8 L133.8,68.9 L134.0,70.2 L134.0,71.7 L134.1,73.0 L134.3,74.5 L134.3,75.9 L134.6,77.2 L134.7,78.9 L134.9,79.3 L134.7,81.6 L135.0,82.5 L135.3,84.4 L135.3,85.3 L135.5,86.5 L136.1,88.5 L136.2,89.1 L136.1,91.2 L136.4,92.1 L136.8,93.8 L136.9,94.3 L137.4,96.1 L137.8,97.2 L138.1,98.6 L139.4,100.3 Z" fill="#c4c4c4" stroke="#555" stroke-width="1.0" stroke-linejoin="round"/>
<path d="M108.3,100.3 L109.6,99.7 L110.8,99.2 L112.1,98.5 L113.6,97.9 L115.0,97.4 L116.4,96.6 L117.7,95.4 L118.6,94.6 L120.1,93.8 L120.6,92.2 L121.0,90.4 L121.6,89.5 L122.4,87.8 L123.0,86.1 L123.7,85.1 L124.1,83.6 L124.6,82.1 L124.8,80.7 L125.5,79.9 L125.7,78.3 L125.8,76.4 L126.1,74.9 L126.5,74.1 L126.8,72.8 L127.3,71.5 L127.3,69.1 L127.7,68.7 L127.8,67.3 L128.1,64.9 L128.2,64.2 L128.4,62.0 L128.8,61.6 L128.8,59.2 L128.9,57.7 L129.1,57.0 L129.4,55.3 L129.7,53.5 L129.8,52.0 L129.9,50.5 L130.0,49.3 L130.4,48.7 L130.6,46.6 L130.6,45.1 L130.9,44.4 L131.4,41.9 L131.6,40.3 L131.7,42.3 L131.8,43.1 L132.1,44.3 L132.3,45.8 L132.3,47.4 L132.5,49.4 L132.8,50.3 L132.6,51.3 L133.0,53.5 L132.9,54.1 L133.4,56.1 L133.5,57.0 L133.5,59.2 L133.4,60.1 L134.0,61.1 L134.0,62.8 L134.2,64.2 L134.0,66.1 L134.4,67.0 L134.3,68.4 L134.6,70.3 L134.5,71.8 L134.6,73.6 L134.7,74.1 L134.8,76.0 L135.0,77.1 L135.0,79.0 L135.5,80.2 L135.5,82.3 L135.6,83.3 L135.5,84.1 L136.0,85.4 L136.2,87.5 L136.3,88.2 L136.7,90.1 L137.1,91.4 L137.5,92.5 L138.2,94.4 L138.8,96.1 L139.5,97.8 L140.3,98.7 L141.2,99.8 L143.3,100.3" fill="none" stroke="#444" stroke-width="1.05" stroke-linejoin="round"/>
<path d="M192.3,100.3 L193.0,99.0 L193.6,97.7 L195.0,99.0 L195.9,97.9 L196.8,96.9 L198.5,98.0 L199.3,96.8 L200.3,95.7 L201.2,93.8 L202.0,92.0 L202.3,91.0 L202.6,90.3 L203.4,88.1 L203.5,87.3 L204.3,86.3 L204.5,83.8 L204.9,82.3 L205.3,81.4 L205.4,80.1 L205.9,78.3 L205.9,77.2 L206.1,76.1 L206.1,74.6 L206.7,73.7 L207.0,75.3 L207.4,75.9 L207.7,74.9 L207.7,73.0 L208.0,72.0 L208.2,71.2 L208.5,69.0 L208.5,68.2 L208.6,66.6 L208.9,65.5 L208.9,63.9 L209.1,62.7 L209.1,61.3 L209.4,60.3 L209.4,58.7 L209.5,57.6 L209.9,56.5 L210.0,55.3 L210.1,53.6 L209.9,52.5 L210.4,51.7 L210.2,49.5 L210.4,49.1 L210.4,47.2 L210.8,45.6 L211.1,45.3 L210.8,43.4 L211.2,41.9 L211.3,41.1 L211.4,39.0 L211.5,38.0 L211.9,39.2 L211.8,41.4 L212.3,42.3 L212.5,43.8 L212.6,42.8 L212.6,41.7 L212.9,39.9 L213.3,39.0 L213.5,39.8 L213.4,41.5 L213.9,42.9 L213.9,44.4 L214.3,46.2 L214.2,44.8 L214.7,43.3 L214.7,42.2 L214.9,40.4 L215.4,39.5 L215.9,37.4 L216.0,39.8 L216.2,41.1 L216.2,42.1 L216.0,43.3 L216.2,44.6 L216.5,46.6 L216.5,47.5 L216.6,48.4 L216.7,50.3 L216.8,51.1 L217.0,52.5 L216.8,53.6 L217.2,55.1 L217.3,56.9 L217.3,58.4 L217.5,58.7 L217.4,60.4 L217.6,61.9 L217.7,62.8 L217.7,64.8 L217.9,65.5 L218.1,66.6 L218.4,67.9 L218.4,69.6 L218.4,70.5 L218.7,72.3 L218.6,73.2 L218.9,75.1 L218.9,75.7 L218.9,77.6 L219.2,78.8 L219.3,80.6 L219.3,81.7 L219.4,83.2 L219.6,84.4 L219.6,85.6 L220.0,87.0 L219.9,88.3 L220.2,90.2 L220.5,91.7 L220.8,92.4 L220.7,94.1 L221.0,94.8 L221.4,96.7 L221.8,98.0 L222.2,99.4 L223.4,100.3 Z" fill="#c4c4c4" stroke="#555" stroke-width="1.0" stroke-linejoin="round"/>
<path d="M200.6,100.3 L201.9,99.8 L203.2,99.4 L204.4,98.9 L205.7,98.4 L206.7,97.5 L207.8,96.2 L208.9,94.9 L209.3,93.9 L209.5,91.5 L210.1,90.1 L210.4,89.4 L210.6,87.9 L210.8,86.6 L211.0,84.4 L211.2,83.2 L211.2,81.9 L211.4,80.2 L211.5,78.7 L212.0,77.8 L212.2,76.6 L212.4,74.7 L212.6,72.8 L212.5,71.7 L212.9,69.9 L213.0,68.6 L213.2,67.5 L213.4,65.5 L213.4,64.2 L213.7,62.7 L214.0,61.2 L214.0,60.7 L214.4,59.0 L214.3,56.8 L214.7,56.2 L214.6,54.6 L215.1,52.9 L215.2,52.0 L215.4,49.8 L215.5,48.5 L215.8,46.8 L215.9,45.9 L216.1,43.9 L216.3,42.8 L216.5,41.1 L216.6,39.5 L217.6,37.6 L217.6,39.1 L217.9,40.5 L218.1,42.6 L218.2,43.5 L218.2,45.2 L218.7,46.3 L218.5,47.8 L218.8,49.3 L218.9,50.5 L219.7,51.7 L219.6,52.6 L220.0,54.4 L219.9,55.7 L220.0,57.2 L220.2,57.8 L220.4,60.1 L220.5,60.6 L220.4,62.6 L220.5,63.6 L220.5,64.5 L220.7,65.8 L220.8,66.9 L221.0,68.2 L220.8,70.1 L221.0,71.7 L221.2,72.8 L221.2,74.1 L221.3,75.7 L221.4,77.6 L221.6,79.0 L221.8,79.7 L221.8,80.7 L222.1,82.4 L222.5,84.2 L222.4,84.6 L222.7,86.0 L222.9,87.6 L222.8,89.2 L223.1,90.0 L223.2,92.4 L223.5,93.3 L224.1,94.5 L224.4,95.8 L224.9,97.4 L225.7,98.4 L226.5,99.4 L228.3,97.7 L229.6,97.0 L230.9,99.0 L232.6,100.3" fill="none" stroke="#444" stroke-width="1.05" stroke-linejoin="round"/>
<path d="M276.2,100.3 L276.7,98.4 L277.2,96.9 L278.8,98.5 L280.6,97.4 L281.5,96.1 L282.4,95.0 L282.7,96.2 L283.1,97.8 L285.0,95.8 L285.4,94.6 L286.1,93.1 L286.7,91.2 L287.0,89.9 L287.4,88.6 L287.9,88.2 L288.3,87.0 L289.0,85.0 L289.1,83.6 L289.7,82.0 L289.9,80.0 L290.2,79.5 L290.4,77.4 L290.7,76.2 L290.5,75.2 L290.6,74.2 L290.7,72.3 L291.4,74.1 L292.0,75.2 L292.4,73.7 L292.4,72.3 L292.6,70.8 L292.6,69.5 L292.8,67.9 L293.2,66.9 L293.0,64.7 L293.3,64.2 L293.4,62.1 L293.4,61.8 L293.6,59.9 L293.6,59.2 L293.6,57.2 L293.9,56.3 L293.9,54.5 L294.0,52.9 L294.2,52.6 L294.5,50.5 L294.3,49.3 L294.3,47.6 L294.4,46.4 L294.6,45.8 L294.8,43.8 L294.8,43.2 L294.9,41.7 L295.1,40.2 L295.3,39.3 L295.5,37.6 L295.4,36.1 L295.7,38.3 L295.8,39.6 L296.1,41.2 L296.5,42.0 L296.5,41.0 L296.6,39.4 L297.0,38.1 L297.1,36.7 L297.3,38.4 L297.5,39.6 L297.5,40.7 L297.5,42.2 L297.6,43.3 L297.7,45.1 L298.0,43.6 L298.4,42.2 L298.8,40.4 L298.7,42.1 L298.8,42.8 L299.0,44.5 L299.3,46.6 L299.3,47.0 L299.4,49.3 L299.6,49.7 L299.8,51.4 L299.8,53.3 L299.5,54.7 L299.7,55.9 L299.9,56.5 L299.8,58.4 L300.2,59.5 L300.2,60.9 L300.5,62.1 L300.5,63.4 L300.3,65.1 L300.5,66.9 L300.9,68.2 L301.0,69.5 L300.9,70.3 L301.2,71.5 L300.9,72.5 L301.4,74.9 L301.5,76.0 L301.6,77.1 L301.7,78.4 L301.7,79.3 L301.9,81.2 L302.0,82.4 L302.0,84.3 L302.0,84.8 L302.4,86.8 L302.6,87.6 L302.6,88.6 L302.8,90.0 L303.0,92.0 L303.4,92.5 L303.3,94.3 L303.9,95.6 L304.3,96.9 L304.7,98.1 L305.1,99.4 L306.5,100.3 Z" fill="#c4c4c4" stroke="#555" stroke-width="1.0" stroke-linejoin="round"/>
<path d="M276.2,100.3 L277.7,99.9 L279.1,99.5 L280.5,99.1 L282.0,98.6 L283.5,98.0 L284.9,97.2 L286.0,96.4 L287.1,95.1 L288.5,94.5 L288.9,93.2 L289.7,92.1 L290.3,90.0 L290.8,88.9 L291.4,87.6 L292.2,86.1 L292.5,84.6 L293.2,83.4 L293.5,81.7 L293.4,79.8 L294.1,78.7 L294.3,78.0 L294.5,76.2 L294.6,75.6 L294.8,73.3 L295.4,72.3 L295.4,70.9 L295.5,69.4 L295.8,68.5 L296.1,66.2 L296.3,65.4 L296.5,64.1 L296.6,62.1 L297.2,61.2 L297.1,59.3 L297.5,57.9 L297.9,56.8 L297.8,55.3 L298.3,53.0 L298.2,52.6 L298.5,50.7 L298.5,49.7 L299.1,47.4 L299.1,46.5 L299.3,45.4 L299.3,43.9 L299.4,41.8 L299.9,40.6 L300.0,39.1 L300.3,37.9 L300.4,36.4 L300.8,37.9 L301.1,39.3 L301.2,39.6 L301.3,41.3 L301.3,43.0 L301.9,44.2 L302.0,45.8 L301.9,47.7 L302.3,45.9 L302.4,44.8 L302.6,42.7 L303.5,42.7 L303.7,43.3 L303.6,45.2 L303.7,46.9 L303.9,47.4 L304.1,49.5 L304.4,50.6 L304.5,52.0 L304.6,53.0 L304.6,54.6 L304.7,56.8 L304.8,58.0 L304.9,59.4 L305.2,60.2 L305.1,61.8 L305.5,63.1 L305.7,64.0 L305.8,66.0 L306.3,67.4 L306.2,68.6 L306.3,69.6 L306.9,70.9 L307.1,72.1 L307.5,74.1 L308.0,74.7 L309.0,76.6 L309.3,78.7 L309.6,80.0 L309.6,81.1 L309.8,83.4 L310.3,84.2 L310.6,86.0 L311.0,86.9 L311.4,88.1 L311.8,89.4 L312.0,90.7 L312.6,92.5 L312.9,93.1 L313.6,94.7 L314.4,97.0 L315.6,98.1 L316.6,99.4 L318.6,100.3" fill="none" stroke="#444" stroke-width="1.05" stroke-linejoin="round"/>
<path d="M360.0,99.5 L361.0,97.8 L362.0,96.2 L363.8,97.5 L364.6,96.1 L365.5,94.7 L367.4,96.2 L368.3,95.2 L369.3,94.0 L370.2,92.3 L370.6,91.6 L371.0,89.5 L371.4,88.9 L371.9,87.2 L372.6,86.0 L372.8,84.6 L373.4,83.5 L373.3,81.6 L374.0,80.9 L374.2,79.3 L374.3,77.2 L374.8,75.7 L375.2,73.9 L375.2,73.1 L375.7,71.6 L376.4,73.0 L377.0,74.1 L377.1,72.5 L377.0,70.5 L377.3,69.3 L377.4,68.1 L377.5,67.1 L377.6,65.3 L377.8,64.6 L377.9,62.9 L377.7,61.1 L377.8,59.6 L378.2,58.1 L378.1,57.7 L378.5,56.0 L378.3,54.7 L378.4,53.2 L378.5,51.3 L379.0,50.3 L378.7,48.5 L378.8,47.4 L379.2,46.0 L379.1,44.6 L379.3,42.7 L379.8,42.0 L379.5,40.4 L379.8,38.6 L379.8,37.1 L380.5,39.1 L380.8,40.5 L381.0,42.9 L381.1,40.8 L381.6,39.9 L381.6,38.8 L381.8,36.9 L382.1,38.1 L382.2,39.3 L382.5,41.6 L382.8,42.4 L383.0,43.7 L383.5,42.5 L384.1,40.8 L384.2,42.9 L384.3,43.9 L384.5,45.9 L384.5,46.5 L384.8,48.0 L384.8,49.7 L385.0,50.9 L385.2,52.9 L385.2,53.8 L385.2,55.6 L385.3,57.3 L385.5,58.4 L385.8,60.2 L385.9,60.8 L386.2,62.9 L386.2,64.1 L386.4,65.5 L386.4,66.7 L386.4,68.4 L386.6,69.1 L386.8,70.7 L387.0,72.5 L386.7,73.2 L387.1,75.5 L387.2,76.9 L387.1,78.3 L387.4,78.8 L387.3,80.8 L387.4,82.4 L387.6,83.0 L387.6,84.4 L387.7,85.6 L388.1,87.1 L388.3,89.3 L388.5,90.3 L388.8,91.5 L388.7,93.3 L389.0,94.7 L389.2,96.4 L390.2,97.8 L391.2,99.5 Z" fill="#c4c4c4" stroke="#555" stroke-width="1.0" stroke-linejoin="round"/>
<path d="M375.0,99.5 L375.9,98.4 L376.6,97.5 L377.5,96.4 L378.7,95.1 L380.0,93.4 L380.4,92.7 L380.9,91.3 L381.7,90.4 L382.2,88.6 L382.6,86.7 L382.7,86.0 L383.3,84.3 L383.6,83.0 L384.3,81.0 L384.4,79.7 L385.0,77.5 L385.4,76.5 L385.6,74.6 L385.9,73.9 L385.9,71.6 L386.4,70.1 L386.7,69.0 L386.9,67.6 L386.9,66.7 L387.6,65.1 L387.8,63.8 L388.4,62.2 L389.5,63.4 L389.7,62.4 L389.9,60.5 L389.8,59.9 L390.3,57.9 L390.1,56.7 L390.5,54.6 L390.5,53.6 L390.8,52.0 L390.8,51.1 L391.3,48.9 L391.1,48.4 L391.6,46.5 L391.9,44.9 L392.0,44.0 L392.0,41.9 L392.2,40.2 L392.4,38.6 L392.8,37.9 L393.1,39.3 L392.9,40.8 L393.1,42.3 L393.6,43.6 L393.5,45.0 L393.6,45.8 L394.1,44.5 L394.6,42.5 L394.8,43.6 L395.0,45.6 L395.2,46.7 L395.3,48.3 L395.7,49.6 L395.5,51.3 L395.6,52.3 L395.8,50.9 L396.3,49.8 L396.7,47.9 L396.8,46.3 L397.0,45.5 L397.1,46.6 L397.4,48.5 L397.4,49.2 L397.7,50.9 L397.7,52.3 L398.1,53.8 L398.1,55.5 L398.3,56.6 L398.5,58.2 L398.6,59.0 L399.0,61.6 L399.1,62.5 L399.4,63.4 L400.1,65.0 L400.2,66.0 L400.5,68.4 L400.6,70.0 L401.1,71.4 L401.3,72.0 L401.4,74.3 L401.9,75.7 L402.0,77.3 L402.3,78.0 L402.5,79.7 L402.7,81.2 L403.1,83.0 L403.2,85.0 L403.6,85.5 L403.9,87.3 L403.9,89.4 L404.3,90.9 L404.6,92.0 L404.9,93.8 L405.4,95.2 L406.0,96.4 L406.5,98.0 L407.6,98.7 L408.8,99.5" fill="none" stroke="#444" stroke-width="1.05" stroke-linejoin="round"/>
<path d="M445.0,100.2 L445.6,98.6 L446.2,97.2 L446.8,95.8 L447.6,96.9 L448.4,98.0 L449.4,96.7 L450.4,95.2 L452.2,96.6 L452.8,94.9 L453.6,93.9 L454.3,92.0 L454.8,91.3 L455.1,89.2 L455.8,87.6 L456.2,86.5 L456.6,85.4 L457.0,84.0 L457.1,82.7 L457.5,80.8 L457.7,80.3 L458.2,78.7 L458.3,76.7 L458.7,75.9 L459.0,74.2 L459.4,72.5 L459.6,71.6 L460.8,73.7 L460.9,72.8 L460.8,70.5 L460.9,69.1 L461.3,68.2 L461.6,66.3 L461.7,65.3 L461.8,64.1 L462.1,62.3 L462.0,60.5 L462.0,59.9 L462.0,58.4 L462.2,56.6 L462.4,55.1 L462.4,53.5 L462.5,52.8 L462.9,50.6 L462.6,49.7 L462.7,48.3 L463.1,46.4 L463.0,45.6 L463.2,44.0 L463.1,42.5 L463.5,41.4 L463.4,39.7 L463.6,38.5 L463.9,36.8 L463.8,38.9 L464.4,39.6 L464.7,42.0 L464.7,39.6 L465.4,38.5 L465.6,36.7 L465.7,38.5 L465.8,39.9 L466.2,40.4 L466.4,42.6 L466.4,43.4 L466.6,42.4 L467.1,40.6 L467.5,39.7 L467.5,40.4 L467.7,41.8 L467.5,43.7 L468.0,44.9 L467.9,45.2 L468.0,46.8 L468.0,47.9 L468.3,49.8 L468.6,50.6 L468.4,52.9 L468.8,54.3 L468.6,55.4 L469.0,57.1 L469.2,58.7 L469.3,59.3 L469.2,60.7 L469.4,62.6 L469.7,64.0 L469.8,65.7 L469.7,67.0 L469.9,67.7 L469.9,70.1 L469.9,71.6 L470.4,72.3 L470.4,74.1 L470.4,75.0 L470.7,76.3 L470.6,77.5 L470.9,79.7 L471.0,80.4 L471.2,82.8 L471.1,83.5 L471.3,85.1 L471.3,86.3 L471.9,88.0 L472.0,89.2 L472.3,90.3 L472.5,91.6 L472.6,92.7 L472.7,94.7 L472.8,95.6 L473.7,97.4 L474.3,98.6 L475.0,100.2 Z" fill="#c4c4c4" stroke="#555" stroke-width="1.0" stroke-linejoin="round"/>
<path d="M458.8,100.2 L460.4,99.7 L461.9,99.2 L463.5,98.7 L464.6,97.7 L465.7,96.7 L466.9,95.7 L467.6,93.9 L468.5,92.5 L469.0,90.8 L469.6,89.5 L469.9,88.3 L470.1,87.4 L470.6,85.3 L470.7,84.7 L471.0,83.3 L471.5,82.2 L471.7,80.8 L471.8,78.8 L472.1,78.1 L472.1,76.4 L472.3,75.3 L472.5,74.1 L472.9,72.5 L473.1,70.8 L473.2,70.0 L473.7,69.1 L473.6,67.8 L473.9,65.5 L474.2,64.3 L474.1,63.2 L474.4,61.9 L474.6,61.1 L474.9,59.3 L474.9,57.8 L475.3,57.2 L475.2,55.2 L475.6,54.4 L475.7,52.5 L476.1,54.6 L476.8,56.2 L476.9,55.1 L477.5,53.9 L477.3,52.6 L477.8,51.2 L477.9,49.1 L478.7,48.2 L479.0,47.0 L479.6,45.1 L479.7,43.3 L480.1,41.7 L480.1,41.0 L480.5,39.1 L480.6,38.4 L481.9,35.6 L482.4,36.9 L482.7,38.9 L482.9,40.3 L483.1,41.3 L483.3,42.8 L483.6,43.7 L483.6,45.2 L483.9,47.4 L483.9,48.7 L484.2,49.6 L484.4,50.8 L484.8,52.2 L484.6,54.2 L485.0,55.2 L485.0,56.3 L485.3,57.5 L485.6,58.9 L485.6,60.2 L486.1,61.4 L486.3,62.8 L486.3,63.9 L486.5,65.7 L486.7,66.9 L487.5,69.3 L487.9,70.8 L488.1,71.6 L488.1,73.6 L488.3,74.1 L488.5,75.9 L488.7,76.7 L488.9,78.5 L489.1,79.6 L489.1,81.3 L489.5,82.2 L489.5,83.4 L489.7,84.8 L489.7,86.7 L489.8,87.4 L490.2,88.6 L490.7,90.4 L490.7,91.7 L490.8,92.6 L491.1,94.3 L491.4,95.9 L492.1,96.8 L492.7,98.0 L493.4,99.2 L495.8,100.2" fill="none" stroke="#444" stroke-width="1.05" stroke-linejoin="round"/>
<text x="51.5" y="158.5" font-family="Liberation Serif, serif" font-size="10" font-weight="bold" text-anchor="middle" fill="#111" >Anti-gp46</text>
<text x="146.5" y="157.5" font-family="Liberation Serif, serif" font-size="10" font-weight="bold" text-anchor="middle" fill="#111" >Serum 1</text>
<text x="242" y="157.5" font-family="Liberation Serif, serif" font-size="10" font-weight="bold" text-anchor="middle" fill="#111" >Serum 2</text>
<rect x="18" y="165" width="66" height="66" fill="none" stroke="#111" stroke-width="1.3"/>
<line x1="17.5" y1="231" x2="84.5" y2="231" stroke="#111" stroke-width="1.5"/>
<line x1="15.8" y1="231.0" x2="18" y2="231.0" stroke="#222" stroke-width="0.9"/>
<rect x="12.7" y="229.8" width="3.4" height="2.3" rx="0.6" fill="#2a2a2a"/>
<line x1="15.8" y1="218.4" x2="18" y2="218.4" stroke="#222" stroke-width="0.9"/>
<rect x="12.7" y="217.2" width="3.4" height="2.3" rx="0.6" fill="#2a2a2a"/>
<line x1="15.8" y1="205.8" x2="18" y2="205.8" stroke="#222" stroke-width="0.9"/>
<rect x="12.7" y="204.7" width="3.4" height="2.3" rx="0.6" fill="#2a2a2a"/>
<line x1="15.8" y1="193.2" x2="18" y2="193.2" stroke="#222" stroke-width="0.9"/>
<rect x="12.7" y="192.0" width="3.4" height="2.3" rx="0.6" fill="#2a2a2a"/>
<line x1="15.8" y1="180.6" x2="18" y2="180.6" stroke="#222" stroke-width="0.9"/>
<rect x="12.7" y="179.4" width="3.4" height="2.3" rx="0.6" fill="#2a2a2a"/>
<line x1="15.8" y1="168.0" x2="18" y2="168.0" stroke="#222" stroke-width="0.9"/>
<rect x="12.7" y="166.8" width="3.4" height="2.3" rx="0.6" fill="#2a2a2a"/>
<line x1="16.7" y1="228.5" x2="18" y2="228.5" stroke="#444" stroke-width="0.7"/>
<line x1="16.7" y1="226.0" x2="18" y2="226.0" stroke="#444" stroke-width="0.7"/>
<line x1="16.7" y1="223.4" x2="18" y2="223.4" stroke="#444" stroke-width="0.7"/>
<line x1="16.7" y1="220.9" x2="18" y2="220.9" stroke="#444" stroke-width="0.7"/>
<line x1="16.7" y1="215.9" x2="18" y2="215.9" stroke="#444" stroke-width="0.7"/>
<line x1="16.7" y1="213.4" x2="18" y2="213.4" stroke="#444" stroke-width="0.7"/>
<line x1="16.7" y1="210.8" x2="18" y2="210.8" stroke="#444" stroke-width="0.7"/>
<line x1="16.7" y1="208.3" x2="18" y2="208.3" stroke="#444" stroke-width="0.7"/>
<line x1="16.7" y1="203.3" x2="18" y2="203.3" stroke="#444" stroke-width="0.7"/>
<line x1="16.7" y1="200.8" x2="18" y2="200.8" stroke="#444" stroke-width="0.7"/>
<line x1="16.7" y1="198.2" x2="18" y2="198.2" stroke="#444" stroke-width="0.7"/>
<line x1="16.7" y1="195.7" x2="18" y2="195.7" stroke="#444" stroke-width="0.7"/>
<line x1="16.7" y1="190.7" x2="18" y2="190.7" stroke="#444" stroke-width="0.7"/>
<line x1="16.7" y1="188.2" x2="18" y2="188.2" stroke="#444" stroke-width="0.7"/>
<line x1="16.7" y1="185.6" x2="18" y2="185.6" stroke="#444" stroke-width="0.7"/>
<line x1="16.7" y1="183.1" x2="18" y2="183.1" stroke="#444" stroke-width="0.7"/>
<line x1="16.7" y1="178.1" x2="18" y2="178.1" stroke="#444" stroke-width="0.7"/>
<line x1="16.7" y1="175.6" x2="18" y2="175.6" stroke="#444" stroke-width="0.7"/>
<line x1="16.7" y1="173.0" x2="18" y2="173.0" stroke="#444" stroke-width="0.7"/>
<line x1="16.7" y1="170.5" x2="18" y2="170.5" stroke="#444" stroke-width="0.7"/>
<line x1="18.0" y1="231" x2="18.0" y2="233" stroke="#222" stroke-width="0.8"/>
<rect x="17.0" y="235.6" width="2.2" height="2.6" fill="#333"/>
<rect x="19.6" y="234.3" width="1.5" height="1.7" fill="#444"/>
<line x1="34.2" y1="231" x2="34.2" y2="233" stroke="#222" stroke-width="0.8"/>
<rect x="33.2" y="235.6" width="2.2" height="2.6" fill="#333"/>
<rect x="35.9" y="234.3" width="1.5" height="1.7" fill="#444"/>
<line x1="50.5" y1="231" x2="50.5" y2="233" stroke="#222" stroke-width="0.8"/>
<rect x="49.5" y="235.6" width="2.2" height="2.6" fill="#333"/>
<rect x="52.1" y="234.3" width="1.5" height="1.7" fill="#444"/>
<line x1="66.8" y1="231" x2="66.8" y2="233" stroke="#222" stroke-width="0.8"/>
<rect x="65.8" y="235.6" width="2.2" height="2.6" fill="#333"/>
<rect x="68.3" y="234.3" width="1.5" height="1.7" fill="#444"/>
<line x1="83.0" y1="231" x2="83.0" y2="233" stroke="#222" stroke-width="0.8"/>
<rect x="82.0" y="235.6" width="2.2" height="2.6" fill="#333"/>
<rect x="84.6" y="234.3" width="1.5" height="1.7" fill="#444"/>
<line x1="18" y1="232.2" x2="84" y2="232.2" stroke="#666" stroke-width="1" stroke-dasharray="0.5,1.2"/>
<text transform="translate(11.5,193.5) rotate(-90)" font-family="Liberation Sans, sans-serif" font-size="5.6" text-anchor="middle" fill="#555">Events</text>
<rect x="114.5" y="166.8" width="66.5" height="65.39999999999998" fill="none" stroke="#111" stroke-width="1.3"/>
<line x1="114.0" y1="232.2" x2="181.5" y2="232.2" stroke="#111" stroke-width="1.5"/>
<line x1="112.3" y1="232.2" x2="114.5" y2="232.2" stroke="#222" stroke-width="0.9"/>
<rect x="109.2" y="231.0" width="3.4" height="2.3" rx="0.6" fill="#2a2a2a"/>
<line x1="112.3" y1="219.7" x2="114.5" y2="219.7" stroke="#222" stroke-width="0.9"/>
<rect x="109.2" y="218.6" width="3.4" height="2.3" rx="0.6" fill="#2a2a2a"/>
<line x1="112.3" y1="207.2" x2="114.5" y2="207.2" stroke="#222" stroke-width="0.9"/>
<rect x="109.2" y="206.1" width="3.4" height="2.3" rx="0.6" fill="#2a2a2a"/>
<line x1="112.3" y1="194.8" x2="114.5" y2="194.8" stroke="#222" stroke-width="0.9"/>
<rect x="109.2" y="193.6" width="3.4" height="2.3" rx="0.6" fill="#2a2a2a"/>
<line x1="112.3" y1="182.3" x2="114.5" y2="182.3" stroke="#222" stroke-width="0.9"/>
<rect x="109.2" y="181.1" width="3.4" height="2.3" rx="0.6" fill="#2a2a2a"/>
<line x1="112.3" y1="169.8" x2="114.5" y2="169.8" stroke="#222" stroke-width="0.9"/>
<rect x="109.2" y="168.7" width="3.4" height="2.3" rx="0.6" fill="#2a2a2a"/>
<line x1="113.2" y1="229.7" x2="114.5" y2="229.7" stroke="#444" stroke-width="0.7"/>
<line x1="113.2" y1="227.2" x2="114.5" y2="227.2" stroke="#444" stroke-width="0.7"/>
<line x1="113.2" y1="224.7" x2="114.5" y2="224.7" stroke="#444" stroke-width="0.7"/>
<line x1="113.2" y1="222.2" x2="114.5" y2="222.2" stroke="#444" stroke-width="0.7"/>
<line x1="113.2" y1="217.2" x2="114.5" y2="217.2" stroke="#444" stroke-width="0.7"/>
<line x1="113.2" y1="214.7" x2="114.5" y2="214.7" stroke="#444" stroke-width="0.7"/>
<line x1="113.2" y1="212.2" x2="114.5" y2="212.2" stroke="#444" stroke-width="0.7"/>
<line x1="113.2" y1="209.7" x2="114.5" y2="209.7" stroke="#444" stroke-width="0.7"/>
<line x1="113.2" y1="204.7" x2="114.5" y2="204.7" stroke="#444" stroke-width="0.7"/>
<line x1="113.2" y1="202.2" x2="114.5" y2="202.2" stroke="#444" stroke-width="0.7"/>
<line x1="113.2" y1="199.8" x2="114.5" y2="199.8" stroke="#444" stroke-width="0.7"/>
<line x1="113.2" y1="197.3" x2="114.5" y2="197.3" stroke="#444" stroke-width="0.7"/>
<line x1="113.2" y1="192.3" x2="114.5" y2="192.3" stroke="#444" stroke-width="0.7"/>
<line x1="113.2" y1="189.8" x2="114.5" y2="189.8" stroke="#444" stroke-width="0.7"/>
<line x1="113.2" y1="187.3" x2="114.5" y2="187.3" stroke="#444" stroke-width="0.7"/>
<line x1="113.2" y1="184.8" x2="114.5" y2="184.8" stroke="#444" stroke-width="0.7"/>
<line x1="113.2" y1="179.8" x2="114.5" y2="179.8" stroke="#444" stroke-width="0.7"/>
<line x1="113.2" y1="177.3" x2="114.5" y2="177.3" stroke="#444" stroke-width="0.7"/>
<line x1="113.2" y1="174.8" x2="114.5" y2="174.8" stroke="#444" stroke-width="0.7"/>
<line x1="113.2" y1="172.3" x2="114.5" y2="172.3" stroke="#444" stroke-width="0.7"/>
<line x1="114.5" y1="232.2" x2="114.5" y2="234.2" stroke="#222" stroke-width="0.8"/>
<rect x="113.5" y="236.8" width="2.2" height="2.6" fill="#333"/>
<rect x="116.1" y="235.5" width="1.5" height="1.7" fill="#444"/>
<line x1="130.9" y1="232.2" x2="130.9" y2="234.2" stroke="#222" stroke-width="0.8"/>
<rect x="129.9" y="236.8" width="2.2" height="2.6" fill="#333"/>
<rect x="132.5" y="235.5" width="1.5" height="1.7" fill="#444"/>
<line x1="147.2" y1="232.2" x2="147.2" y2="234.2" stroke="#222" stroke-width="0.8"/>
<rect x="146.2" y="236.8" width="2.2" height="2.6" fill="#333"/>
<rect x="148.8" y="235.5" width="1.5" height="1.7" fill="#444"/>
<line x1="163.6" y1="232.2" x2="163.6" y2="234.2" stroke="#222" stroke-width="0.8"/>
<rect x="162.6" y="236.8" width="2.2" height="2.6" fill="#333"/>
<rect x="165.2" y="235.5" width="1.5" height="1.7" fill="#444"/>
<line x1="180.0" y1="232.2" x2="180.0" y2="234.2" stroke="#222" stroke-width="0.8"/>
<rect x="179.0" y="236.8" width="2.2" height="2.6" fill="#333"/>
<rect x="181.6" y="235.5" width="1.5" height="1.7" fill="#444"/>
<line x1="114.5" y1="233.39999999999998" x2="181" y2="233.39999999999998" stroke="#666" stroke-width="1" stroke-dasharray="0.5,1.2"/>
<text transform="translate(108.2,195.0) rotate(-90)" font-family="Liberation Sans, sans-serif" font-size="5.6" text-anchor="middle" fill="#555">Events</text>
<rect x="208" y="165.8" width="66.39999999999998" height="65.79999999999998" fill="none" stroke="#111" stroke-width="1.3"/>
<line x1="207.5" y1="231.6" x2="274.9" y2="231.6" stroke="#111" stroke-width="1.5"/>
<line x1="205.8" y1="231.6" x2="208" y2="231.6" stroke="#222" stroke-width="0.9"/>
<rect x="202.7" y="230.4" width="3.4" height="2.3" rx="0.6" fill="#2a2a2a"/>
<line x1="205.8" y1="219.0" x2="208" y2="219.0" stroke="#222" stroke-width="0.9"/>
<rect x="202.7" y="217.9" width="3.4" height="2.3" rx="0.6" fill="#2a2a2a"/>
<line x1="205.8" y1="206.5" x2="208" y2="206.5" stroke="#222" stroke-width="0.9"/>
<rect x="202.7" y="205.3" width="3.4" height="2.3" rx="0.6" fill="#2a2a2a"/>
<line x1="205.8" y1="193.9" x2="208" y2="193.9" stroke="#222" stroke-width="0.9"/>
<rect x="202.7" y="192.8" width="3.4" height="2.3" rx="0.6" fill="#2a2a2a"/>
<line x1="205.8" y1="181.4" x2="208" y2="181.4" stroke="#222" stroke-width="0.9"/>
<rect x="202.7" y="180.2" width="3.4" height="2.3" rx="0.6" fill="#2a2a2a"/>
<line x1="205.8" y1="168.8" x2="208" y2="168.8" stroke="#222" stroke-width="0.9"/>
<rect x="202.7" y="167.7" width="3.4" height="2.3" rx="0.6" fill="#2a2a2a"/>
<line x1="206.7" y1="229.1" x2="208" y2="229.1" stroke="#444" stroke-width="0.7"/>
<line x1="206.7" y1="226.6" x2="208" y2="226.6" stroke="#444" stroke-width="0.7"/>
<line x1="206.7" y1="224.1" x2="208" y2="224.1" stroke="#444" stroke-width="0.7"/>
<line x1="206.7" y1="221.6" x2="208" y2="221.6" stroke="#444" stroke-width="0.7"/>
<line x1="206.7" y1="216.5" x2="208" y2="216.5" stroke="#444" stroke-width="0.7"/>
<line x1="206.7" y1="214.0" x2="208" y2="214.0" stroke="#444" stroke-width="0.7"/>
<line x1="206.7" y1="211.5" x2="208" y2="211.5" stroke="#444" stroke-width="0.7"/>
<line x1="206.7" y1="209.0" x2="208" y2="209.0" stroke="#444" stroke-width="0.7"/>
<line x1="206.7" y1="204.0" x2="208" y2="204.0" stroke="#444" stroke-width="0.7"/>
<line x1="206.7" y1="201.5" x2="208" y2="201.5" stroke="#444" stroke-width="0.7"/>
<line x1="206.7" y1="198.9" x2="208" y2="198.9" stroke="#444" stroke-width="0.7"/>
<line x1="206.7" y1="196.4" x2="208" y2="196.4" stroke="#444" stroke-width="0.7"/>
<line x1="206.7" y1="191.4" x2="208" y2="191.4" stroke="#444" stroke-width="0.7"/>
<line x1="206.7" y1="188.9" x2="208" y2="188.9" stroke="#444" stroke-width="0.7"/>
<line x1="206.7" y1="186.4" x2="208" y2="186.4" stroke="#444" stroke-width="0.7"/>
<line x1="206.7" y1="183.9" x2="208" y2="183.9" stroke="#444" stroke-width="0.7"/>
<line x1="206.7" y1="178.8" x2="208" y2="178.8" stroke="#444" stroke-width="0.7"/>
<line x1="206.7" y1="176.3" x2="208" y2="176.3" stroke="#444" stroke-width="0.7"/>
<line x1="206.7" y1="173.8" x2="208" y2="173.8" stroke="#444" stroke-width="0.7"/>
<line x1="206.7" y1="171.3" x2="208" y2="171.3" stroke="#444" stroke-width="0.7"/>
<line x1="208.0" y1="231.6" x2="208.0" y2="233.6" stroke="#222" stroke-width="0.8"/>
<rect x="207.0" y="236.2" width="2.2" height="2.6" fill="#333"/>
<rect x="209.6" y="234.9" width="1.5" height="1.7" fill="#444"/>
<line x1="224.3" y1="231.6" x2="224.3" y2="233.6" stroke="#222" stroke-width="0.8"/>
<rect x="223.3" y="236.2" width="2.2" height="2.6" fill="#333"/>
<rect x="225.9" y="234.9" width="1.5" height="1.7" fill="#444"/>
<line x1="240.7" y1="231.6" x2="240.7" y2="233.6" stroke="#222" stroke-width="0.8"/>
<rect x="239.7" y="236.2" width="2.2" height="2.6" fill="#333"/>
<rect x="242.3" y="234.9" width="1.5" height="1.7" fill="#444"/>
<line x1="257.0" y1="231.6" x2="257.0" y2="233.6" stroke="#222" stroke-width="0.8"/>
<rect x="256.0" y="236.2" width="2.2" height="2.6" fill="#333"/>
<rect x="258.6" y="234.9" width="1.5" height="1.7" fill="#444"/>
<line x1="273.4" y1="231.6" x2="273.4" y2="233.6" stroke="#222" stroke-width="0.8"/>
<rect x="272.4" y="236.2" width="2.2" height="2.6" fill="#333"/>
<rect x="275.0" y="234.9" width="1.5" height="1.7" fill="#444"/>
<line x1="208" y1="232.79999999999998" x2="274.4" y2="232.79999999999998" stroke="#666" stroke-width="1" stroke-dasharray="0.5,1.2"/>
<text transform="translate(201.7,194.2) rotate(-90)" font-family="Liberation Sans, sans-serif" font-size="5.6" text-anchor="middle" fill="#555">Events</text>
<line x1="16" y1="243.6" x2="279" y2="243.6" stroke="#111" stroke-width="1.4"/>
<text x="146.7" y="256" font-family="Liberation Serif, serif" font-size="10" font-weight="bold" text-anchor="middle" fill="#111" >TRAIL</text>
<path d="M21.3,230.3 L22.7,229.5 L24.1,228.7 L25.4,227.8 L26.5,227.2 L27.4,226.2 L28.6,225.3 L29.5,224.3 L30.3,223.8 L31.1,221.8 L31.9,221.3 L32.8,219.6 L33.3,218.7 L33.8,216.6 L34.1,215.2 L34.8,214.1 L35.3,212.9 L35.4,211.4 L36.0,209.9 L36.1,209.4 L36.3,207.4 L36.8,206.5 L37.3,204.5 L37.4,203.7 L37.7,201.8 L37.9,200.8 L38.3,199.0 L38.5,198.3 L38.6,197.1 L38.7,195.0 L39.0,193.9 L39.4,192.3 L39.2,191.3 L39.4,190.0 L39.7,188.3 L40.2,187.0 L40.3,185.4 L40.4,183.3 L40.5,181.9 L40.5,180.7 L40.7,179.6 L40.9,177.6 L41.2,176.5 L41.3,174.5 L41.7,173.4 L41.7,171.9 L42.1,171.3 L42.2,169.4 L43.0,167.8 L43.2,169.7 L43.5,171.1 L43.9,172.9 L44.1,174.8 L44.0,175.6 L44.5,176.7 L44.7,178.2 L44.6,180.1 L44.8,180.8 L44.8,182.5 L45.3,183.5 L45.5,184.9 L45.5,186.3 L45.4,187.7 L45.5,189.3 L45.9,191.0 L46.1,192.0 L46.3,193.4 L46.1,195.0 L46.5,196.0 L46.7,197.2 L46.8,198.5 L46.8,200.5 L47.0,201.9 L47.0,203.0 L47.3,204.1 L47.3,206.4 L47.5,207.8 L47.8,208.6 L47.8,210.9 L48.1,212.3 L48.3,213.7 L48.5,215.4 L48.6,216.1 L49.0,217.5 L49.2,219.7 L49.7,220.4 L50.2,221.9 L50.5,223.3 L50.8,224.9 L51.4,226.0 L51.9,227.3 L52.4,228.6 L54.0,230.3 Z" fill="#c4c4c4" stroke="#555" stroke-width="1.0" stroke-linejoin="round"/>
<path d="M24.6,230.3 L25.8,229.4 L27.1,228.7 L28.3,227.7 L29.5,227.2 L30.3,225.9 L31.1,224.3 L31.8,223.7 L32.7,222.8 L33.4,221.0 L34.2,220.6 L34.6,219.1 L34.9,216.9 L35.3,216.2 L35.9,215.4 L36.5,213.2 L37.1,211.9 L37.2,211.0 L37.4,209.6 L37.5,208.1 L37.8,207.6 L38.1,206.3 L38.7,205.2 L38.9,203.7 L39.2,202.2 L39.3,200.4 L39.4,199.8 L40.0,198.5 L40.0,196.5 L40.3,195.1 L40.5,194.3 L40.6,191.8 L41.3,191.1 L41.3,189.4 L41.6,188.1 L41.8,186.3 L42.0,185.3 L42.1,183.5 L42.6,182.2 L42.7,180.8 L42.7,179.4 L43.3,177.8 L43.4,177.3 L43.8,175.9 L44.2,174.8 L44.4,173.0 L44.9,172.4 L45.5,171.0 L45.8,171.8 L46.0,173.8 L46.7,174.2 L47.0,173.8 L47.3,172.6 L47.7,173.4 L47.8,175.0 L48.2,176.1 L48.7,178.4 L48.7,179.6 L49.1,180.3 L49.2,181.9 L49.1,182.7 L49.6,184.9 L49.7,186.3 L49.9,187.2 L49.9,189.1 L50.1,190.2 L50.2,191.8 L50.8,193.1 L50.8,193.8 L51.1,195.9 L51.0,197.2 L51.5,198.4 L51.4,200.4 L51.5,200.9 L51.9,202.2 L52.2,203.7 L52.1,205.7 L52.4,207.0 L52.6,208.3 L52.8,209.4 L53.2,211.0 L53.1,212.6 L53.7,214.2 L54.0,215.6 L54.1,216.1 L54.6,217.5 L54.8,219.0 L55.1,220.5 L55.1,221.9 L55.8,223.4 L56.4,225.3 L57.1,226.4 L57.6,228.0 L59.1,229.1 L60.6,230.3" fill="none" stroke="#444" stroke-width="1.05" stroke-linejoin="round"/>
<path d="M18.9,230.3 L20.2,229.5 L21.7,228.5 L22.9,227.7 L24.0,226.8 L25.1,225.9 L26.2,224.9 L27.2,223.4 L28.1,222.3 L28.5,221.1 L29.6,220.1 L29.9,218.2 L30.6,217.6 L31.3,216.5 L31.7,215.3 L32.3,213.7 L33.0,212.0 L33.3,210.7 L33.7,210.1 L34.2,207.8 L34.3,207.0 L34.8,205.0 L35.4,203.6 L35.5,202.7 L35.9,201.2 L36.0,200.4 L36.4,198.4 L36.7,196.9 L36.9,195.8 L37.2,194.5 L37.7,192.5 L37.6,191.4 L38.1,190.0 L38.1,189.2 L38.2,187.2 L38.5,186.4 L38.8,184.6 L39.0,182.8 L39.1,181.2 L39.6,180.1 L39.6,178.7 L39.7,177.2 L40.3,175.4 L40.5,174.4 L40.9,172.6 L41.3,170.7 L42.0,169.5 L42.7,167.3 L42.9,168.9 L43.4,170.4 L43.8,171.6 L44.6,169.3 L44.6,171.3 L45.0,172.1 L44.9,173.7 L45.4,174.5 L45.2,176.2 L45.4,177.4 L45.5,179.5 L45.6,180.2 L45.8,181.8 L46.2,183.0 L46.3,185.0 L46.3,185.4 L46.3,187.7 L46.6,188.4 L46.9,190.0 L46.9,191.8 L46.9,192.6 L47.0,194.1 L47.2,195.9 L47.5,197.6 L47.6,198.0 L47.5,200.0 L47.7,201.3 L47.8,203.0 L48.4,204.3 L48.2,205.9 L48.4,207.0 L48.9,208.2 L48.7,210.1 L49.1,211.0 L49.4,212.2 L49.5,214.4 L49.9,215.1 L49.9,216.7 L50.1,217.8 L50.6,219.8 L51.0,221.0 L51.0,222.6 L51.8,223.5 L52.1,225.2 L52.6,226.5 L53.2,227.7 L54.4,229.0 L55.7,230.3" fill="none" stroke="#111" stroke-width="1.25" stroke-linejoin="round"/>
<path d="M114.2,232.0 L117.5,230.0 L121.2,228.0 L125.0,223.8 L128.0,217.5 L130.5,210.0 L132.5,201.2 L134.5,191.2 L136.2,180.0 L137.5,171.2 L138.5,169.5 L139.5,172.0 L140.5,170.5 L141.5,175.0 L142.5,185.0 L143.5,196.2 L144.5,207.5 L145.5,218.8 L146.5,226.2 L147.8,230.8 L149.5,232.0 Z" fill="#d2d2d2" stroke="none" stroke-width="0" stroke-linejoin="round"/>
<path d="M121.0,231.8 L122.3,231.2 L123.6,230.7 L125.0,230.0 L125.9,229.0 L127.0,227.8 L128.0,226.8 L128.9,225.6 L129.6,225.0 L130.3,223.6 L130.6,222.2 L131.4,221.5 L132.1,220.2 L132.4,219.2 L132.8,217.6 L133.3,216.1 L133.5,214.5 L134.2,213.3 L134.5,212.1 L134.6,210.9 L134.9,209.1 L135.0,208.5 L135.2,206.4 L135.5,205.1 L135.9,204.4 L135.9,202.8 L136.1,201.4 L136.4,200.6 L136.4,198.6 L136.8,197.8 L136.8,196.5 L137.3,194.8 L137.5,193.5 L137.7,191.6 L137.6,190.1 L137.9,188.7 L138.1,188.1 L138.2,186.8 L138.3,185.2 L138.2,184.0 L138.3,182.9 L138.3,180.7 L138.5,179.5 L139.0,178.5 L138.7,176.2 L138.9,175.0 L139.3,173.5 L139.3,171.7 L140.0,170.9 L140.7,171.6 L141.2,173.3 L141.8,171.2 L142.1,172.7 L142.1,174.2 L142.4,175.3 L142.6,177.3 L142.8,178.4 L142.9,179.3 L142.9,180.9 L142.9,182.9 L142.9,184.4 L143.2,185.3 L143.3,186.3 L143.4,188.0 L143.3,189.6 L143.7,190.5 L143.8,191.6 L143.8,193.0 L143.8,194.3 L143.7,195.9 L144.0,197.6 L144.1,198.9 L144.2,200.1 L144.5,201.1 L144.5,202.2 L144.5,204.4 L144.6,205.6 L144.6,206.8 L144.7,207.8 L145.0,209.1 L144.9,210.5 L145.1,211.9 L145.2,213.4 L145.2,214.6 L145.3,215.8 L145.7,217.5 L145.5,219.1 L145.7,220.5 L146.0,222.1 L146.1,223.9 L146.4,225.3 L146.8,226.9 L147.1,227.8 L147.5,229.2 L148.0,230.5 L148.5,231.8 Z" fill="#b4b4b4" stroke="#555" stroke-width="1.0" stroke-linejoin="round"/>
<path d="M120.0,232.0 L121.3,231.6 L122.5,231.2 L123.8,230.7 L125.0,230.3 L126.3,229.9 L127.5,229.2 L128.8,228.1 L129.9,227.5 L131.4,226.3 L132.0,225.2 L132.9,223.5 L133.6,222.0 L134.1,221.6 L134.9,219.8 L135.4,218.8 L136.0,217.9 L136.4,216.0 L136.5,214.5 L137.2,213.9 L137.7,212.9 L137.7,211.5 L138.3,209.9 L138.4,207.8 L138.5,206.4 L139.0,205.3 L139.1,204.4 L139.7,202.5 L139.7,201.4 L140.0,199.4 L140.2,198.0 L140.3,197.0 L140.6,195.8 L141.0,194.0 L140.9,192.4 L141.2,191.3 L141.4,190.3 L141.5,188.3 L141.8,187.0 L142.2,185.6 L142.6,183.7 L142.7,183.0 L142.8,181.4 L143.0,179.9 L143.2,178.2 L143.5,176.8 L144.0,175.9 L144.0,174.2 L144.5,172.2 L145.5,170.7 L146.7,172.6 L146.7,173.8 L146.9,175.9 L147.2,177.4 L147.5,178.2 L147.8,179.7 L147.9,182.0 L147.9,183.5 L148.1,184.4 L148.5,185.4 L148.8,186.8 L148.8,188.8 L149.1,189.7 L149.0,191.9 L149.2,192.6 L149.3,194.4 L149.7,196.1 L149.8,197.4 L150.0,198.8 L150.2,200.2 L150.7,202.0 L150.7,203.2 L150.8,203.9 L151.5,205.3 L151.7,206.9 L151.8,208.3 L151.9,209.7 L152.4,211.7 L152.6,213.4 L152.8,214.1 L153.5,215.5 L153.7,217.4 L154.1,218.6 L154.3,220.2 L154.9,220.8 L155.6,222.8 L155.9,223.4 L156.6,224.8 L157.3,226.3 L158.2,227.1 L159.1,228.6 L160.0,229.7 L161.3,230.4 L162.5,231.2 L163.8,232.0" fill="none" stroke="#444" stroke-width="1.05" stroke-linejoin="round"/>
<path d="M118.0,231.8 L119.2,231.2 L120.4,230.7 L121.6,230.2 L122.9,229.4 L124.0,228.9 L125.0,228.0 L126.0,226.8 L127.0,226.3 L128.0,225.3 L128.9,224.3 L129.6,222.6 L130.4,221.0 L130.5,220.3 L131.2,218.9 L131.7,217.2 L132.2,216.2 L133.0,215.1 L133.5,213.3 L133.5,211.8 L133.9,211.3 L134.4,209.6 L134.7,208.3 L135.0,207.0 L135.5,205.2 L135.5,204.1 L136.1,202.9 L136.2,201.8 L136.4,200.4 L136.7,199.2 L136.8,197.3 L137.3,196.1 L137.6,195.6 L137.6,193.6 L137.9,193.1 L138.3,190.9 L138.5,190.1 L138.6,188.6 L138.9,187.3 L139.1,186.2 L139.6,184.5 L139.7,182.9 L140.0,181.9 L140.1,180.9 L140.2,179.5 L140.6,177.5 L140.6,176.3 L141.1,175.5 L141.4,173.3 L141.9,172.0 L142.2,170.7 L142.8,170.6 L143.7,171.6 L143.8,173.2 L144.1,174.3 L144.4,175.4 L144.5,177.4 L145.0,178.7 L144.9,180.4 L145.3,180.9 L145.1,182.5 L145.2,184.3 L145.5,185.6 L145.5,186.4 L145.8,187.8 L145.7,189.1 L145.8,191.1 L146.0,191.9 L146.0,192.8 L146.4,194.9 L146.3,195.7 L146.4,196.7 L146.5,198.3 L146.5,199.6 L146.8,201.6 L146.6,202.2 L146.7,203.2 L147.0,204.6 L147.0,206.4 L147.4,208.1 L147.7,209.2 L147.8,210.1 L148.0,212.2 L148.2,212.5 L148.0,214.9 L148.5,216.1 L148.6,216.5 L148.9,218.6 L149.2,219.2 L149.1,220.5 L149.5,222.8 L149.7,223.3 L149.9,225.1 L150.6,226.6 L151.0,227.4 L151.6,228.6 L152.0,230.0 L153.3,230.9 L154.5,231.8" fill="none" stroke="#2a2a2a" stroke-width="1.1" stroke-linejoin="round"/>
<path d="M114.2,232.0 L115.9,231.0 L117.5,229.9 L118.8,229.2 L119.9,228.8 L121.3,228.1 L122.3,227.0 L123.1,226.3 L124.2,225.2 L124.8,224.3 L125.5,223.0 L126.2,220.8 L127.0,220.4 L127.5,218.6 L128.2,217.0 L128.4,216.0 L128.6,214.6 L129.3,213.2 L129.8,212.6 L130.0,211.6 L130.4,210.4 L130.7,209.0 L131.1,207.6 L131.5,205.5 L131.6,203.7 L132.3,202.8 L132.5,200.7 L132.9,199.7 L132.9,198.9 L133.2,197.0 L133.8,195.8 L134.0,194.3 L134.0,192.2 L134.3,191.0 L134.9,189.4 L135.1,188.3 L135.3,187.3 L135.5,186.1 L135.6,184.1 L135.6,182.7 L136.1,180.9 L136.5,180.0 L136.6,178.7 L136.7,177.1 L136.7,176.0 L137.1,173.6 L137.3,172.5 L137.4,170.8 L138.5,169.1 L138.8,170.2 L139.5,172.2 L140.7,170.0 L141.0,172.0 L141.2,173.7 L141.3,174.9 L141.6,176.9 L141.6,177.6 L142.1,179.4 L142.2,180.6 L142.2,182.4 L142.5,183.7 L142.3,185.5 L142.5,186.0 L142.7,187.3 L142.8,189.1 L142.8,190.6 L143.2,192.5 L143.1,193.0 L143.2,195.1 L143.3,196.5 L143.7,197.8 L143.9,199.1 L144.1,201.0 L144.0,201.4 L144.2,202.9 L144.1,204.4 L144.2,205.6 L144.4,207.2 L144.8,208.9 L144.7,210.6 L145.0,211.5 L145.1,212.9 L145.2,215.0 L145.1,215.9 L145.6,217.1 L145.3,218.3 L145.6,220.4 L145.8,221.9 L146.0,222.9 L146.4,225.0 L146.6,225.9 L146.9,227.9 L147.3,229.1 L147.7,230.8 L149.5,232.0" fill="none" stroke="#111" stroke-width="1.25" stroke-linejoin="round"/>
<path d="M216.9,231.1 L218.0,230.2 L218.9,229.4 L220.0,228.3 L220.7,227.1 L221.4,226.1 L222.3,225.0 L224.0,222.6 L225.2,223.9 L226.0,222.7 L226.5,221.0 L226.7,219.8 L227.3,218.4 L227.6,216.2 L227.9,214.9 L228.2,213.9 L228.4,211.9 L228.8,210.6 L229.1,209.7 L229.1,207.7 L229.3,206.4 L229.5,205.2 L229.7,203.6 L230.1,201.8 L230.3,200.1 L230.5,198.3 L230.7,197.3 L231.1,195.2 L231.2,193.5 L231.5,192.3 L231.8,190.4 L232.1,193.1 L232.3,194.2 L232.4,195.6 L232.8,196.8 L232.8,198.7 L233.1,200.0 L233.3,201.6 L233.4,202.8 L233.6,204.7 L233.3,206.4 L233.8,207.0 L233.9,208.6 L234.0,209.7 L234.0,211.3 L234.4,212.2 L234.4,214.4 L234.3,215.5 L234.8,216.4 L234.8,217.8 L234.9,219.8 L235.0,221.2 L235.3,222.4 L235.5,222.9 L235.6,224.9 L236.2,226.0 L236.5,227.1 L236.8,228.6 L237.2,230.0 L238.5,231.1 Z" fill="#c4c4c4" stroke="#555" stroke-width="1.0" stroke-linejoin="round"/>
<path d="M215.4,231.1 L216.5,230.2 L217.7,229.4 L218.8,228.4 L219.9,227.7 L220.9,226.5 L221.4,225.1 L222.2,223.8 L223.3,222.6 L224.1,221.3 L224.8,219.6 L225.5,218.5 L225.6,217.4 L226.1,215.6 L226.2,214.2 L226.8,213.6 L227.1,211.8 L227.3,211.2 L227.6,209.1 L227.8,207.8 L228.3,206.4 L228.4,206.0 L228.6,204.2 L229.1,203.6 L229.0,201.7 L229.5,199.6 L229.7,198.1 L229.7,196.8 L230.3,195.1 L230.4,193.7 L230.5,192.6 L231.0,190.8 L231.0,189.5 L231.2,187.7 L231.6,186.1 L231.9,184.3 L231.9,182.9 L232.1,182.0 L232.6,179.9 L233.1,178.4 L233.2,177.1 L233.9,177.9 L234.1,179.9 L234.3,178.2 L234.5,176.5 L234.8,175.6 L235.1,173.9 L235.5,171.5 L235.8,169.7 L235.9,171.8 L236.1,172.5 L236.5,174.5 L236.4,175.6 L236.7,176.8 L237.0,178.3 L237.1,179.8 L237.2,181.6 L237.6,183.5 L237.6,184.9 L237.6,186.0 L238.0,187.6 L237.8,189.5 L238.0,190.5 L238.5,192.1 L238.3,194.0 L238.7,195.7 L238.6,196.9 L238.8,197.9 L239.1,200.4 L239.5,201.1 L239.4,203.1 L239.6,204.5 L240.0,205.6 L240.0,208.1 L240.4,209.3 L240.7,210.2 L240.6,211.9 L240.7,213.4 L241.0,215.0 L241.4,216.9 L241.7,218.5 L241.7,220.5 L242.3,221.4 L242.4,222.8 L243.0,224.9 L243.4,226.1 L244.0,227.3 L244.7,228.6 L245.4,230.0 L247.7,231.1" fill="none" stroke="#444" stroke-width="1.05" stroke-linejoin="round"/>
<path d="M223.1,231.1 L224.3,230.0 L225.6,228.9 L226.9,227.7 L227.6,226.4 L228.0,224.9 L228.4,223.7 L228.9,223.3 L229.5,221.7 L229.8,220.5 L230.1,218.5 L230.5,217.5 L230.5,216.3 L230.9,215.1 L231.1,213.6 L231.7,212.2 L231.8,211.0 L232.0,209.9 L232.1,208.4 L232.4,207.1 L232.7,205.1 L232.5,204.1 L232.8,202.5 L233.0,201.1 L233.3,200.1 L233.5,198.8 L233.4,197.7 L233.7,196.6 L233.9,195.3 L233.8,194.0 L234.2,191.9 L234.3,190.2 L234.1,189.9 L234.6,187.7 L234.7,187.3 L234.8,185.7 L234.6,184.0 L235.1,183.0 L235.1,182.0 L235.2,179.5 L235.5,178.4 L235.7,176.4 L236.0,175.4 L236.3,173.7 L236.8,172.3 L236.8,171.9 L237.9,169.7 L237.9,170.7 L238.3,172.8 L238.6,174.0 L238.6,175.5 L239.0,177.1 L239.0,178.0 L239.4,179.8 L239.6,181.3 L239.7,183.0 L240.2,184.6 L240.3,186.3 L240.6,187.3 L241.2,189.2 L241.5,191.3 L242.1,192.8 L242.2,193.8 L243.0,195.1 L243.1,196.6 L243.2,198.6 L243.6,199.5 L243.9,201.0 L244.1,203.6 L244.2,204.4 L244.6,205.9 L245.0,207.3 L245.3,209.3 L245.3,210.3 L245.4,212.8 L246.0,213.7 L246.0,215.1 L246.4,217.1 L246.7,218.3 L247.1,219.8 L247.5,221.8 L247.6,223.4 L248.3,224.0 L248.6,225.8 L248.8,226.8 L249.6,228.0 L250.1,229.3 L250.8,230.5 L253.1,231.1" fill="none" stroke="#444" stroke-width="1.05" stroke-linejoin="round"/>
<path d="M209.2,231.1 L210.8,230.5 L212.3,229.8 L213.8,229.2 L214.9,227.9 L215.9,227.0 L217.1,225.8 L217.5,223.6 L218.6,221.9 L219.4,220.9 L219.7,219.9 L219.8,218.1 L220.5,216.2 L220.9,215.6 L222.4,216.2 L222.9,215.0 L223.1,213.0 L223.6,211.9 L223.7,211.2 L224.1,208.8 L224.7,207.5 L225.1,206.1 L225.4,204.4 L225.7,202.7 L226.0,201.6 L226.0,200.5 L226.4,198.0 L226.5,197.4 L226.8,195.4 L226.7,193.6 L227.1,192.5 L227.3,191.0 L227.3,189.2 L227.4,187.6 L227.5,186.4 L227.7,185.5 L227.7,183.9 L227.8,182.6 L228.0,181.5 L228.0,180.0 L228.3,178.5 L228.3,177.6 L228.4,175.4 L228.4,173.8 L228.6,172.3 L228.6,171.1 L228.8,170.3 L228.9,170.8 L229.3,172.1 L229.5,174.0 L229.7,175.1 L229.9,176.5 L229.7,178.3 L230.1,180.5 L230.2,181.2 L230.2,183.1 L231.0,181.5 L231.3,179.9 L231.6,181.8 L231.9,183.2 L232.0,184.4 L232.0,186.1 L232.4,187.7 L232.3,189.3 L232.6,190.5 L232.6,191.7 L232.7,193.7 L232.9,194.4 L233.0,196.2 L233.4,197.8 L233.7,199.3 L233.7,200.6 L233.9,201.6 L233.9,202.8 L234.2,204.8 L234.3,205.6 L234.3,207.5 L234.5,209.0 L234.7,209.9 L235.0,211.4 L235.0,213.0 L235.4,214.8 L235.3,216.2 L235.4,217.1 L235.8,219.0 L236.2,219.7 L236.0,221.1 L236.4,223.5 L236.8,224.9 L237.1,225.9 L237.3,227.8 L238.1,229.4 L238.8,231.1" fill="none" stroke="#2a2a2a" stroke-width="1.15" stroke-linejoin="round"/>
<line x1="290.5" y1="175.7" x2="306.5" y2="175.7" stroke="#555" stroke-width="1.3"/>
<line x1="290.5" y1="189.4" x2="306.5" y2="189.4" stroke="#444" stroke-width="1.4"/>
<line x1="290.5" y1="202" x2="306.5" y2="202" stroke="#181818" stroke-width="1.7"/>
<text x="314.3" y="177" font-family="Liberation Serif, serif" font-size="9.8" text-anchor="start" fill="#222" >unstimulated</text>
<text x="314.3" y="192" font-family="Liberation Serif, serif" font-size="10" text-anchor="start" fill="#222" >HTLV-1</text>
<text x="314.3" y="203.6" font-family="Liberation Serif, serif" font-size="10" text-anchor="start" fill="#222" >HTLV-1</text>
<text x="314.3" y="216" font-family="Liberation Serif, serif" font-size="9.8" text-anchor="start" fill="#222" >+blocker</text>
<line x1="40" y1="282.5" x2="40" y2="387" stroke="#111" stroke-width="1.3"/>
<line x1="39.4" y1="386.4" x2="172" y2="386.4" stroke="#111" stroke-width="1.5"/>
<line x1="38.6" y1="384.5" x2="40" y2="384.5" stroke="#111" stroke-width="1"/>
<text transform="translate(38.3,387.6) scale(0.8,1)" font-family="Liberation Sans, sans-serif" font-size="8.7" text-anchor="end" fill="#111">0</text>
<line x1="38.6" y1="364.2" x2="40" y2="364.2" stroke="#111" stroke-width="1"/>
<text transform="translate(38.3,367.3) scale(0.8,1)" font-family="Liberation Sans, sans-serif" font-size="8.7" text-anchor="end" fill="#111">20</text>
<line x1="38.6" y1="343.9" x2="40" y2="343.9" stroke="#111" stroke-width="1"/>
<text transform="translate(38.3,347.0) scale(0.8,1)" font-family="Liberation Sans, sans-serif" font-size="8.7" text-anchor="end" fill="#111">40</text>
<line x1="38.6" y1="323.6" x2="40" y2="323.6" stroke="#111" stroke-width="1"/>
<text transform="translate(38.3,326.7) scale(0.8,1)" font-family="Liberation Sans, sans-serif" font-size="8.7" text-anchor="end" fill="#111">60</text>
<line x1="38.6" y1="303.3" x2="40" y2="303.3" stroke="#111" stroke-width="1"/>
<text transform="translate(38.3,306.4) scale(0.8,1)" font-family="Liberation Sans, sans-serif" font-size="8.7" text-anchor="end" fill="#111">80</text>
<line x1="38.6" y1="283.0" x2="40" y2="283.0" stroke="#111" stroke-width="1"/>
<text transform="translate(38.3,286.1) scale(0.8,1)" font-family="Liberation Sans, sans-serif" font-size="8.7" text-anchor="end" fill="#111">100</text>
<text x="55.699999999999996" y="396.5" font-family="Liberation Sans, sans-serif" font-size="8.5" text-anchor="middle" fill="#111" >3</text>
<text x="80.89999999999999" y="396.5" font-family="Liberation Sans, sans-serif" font-size="8.5" text-anchor="middle" fill="#111" >6</text>
<text x="107.1" y="396.5" font-family="Liberation Sans, sans-serif" font-size="8.5" text-anchor="middle" fill="#111" >9</text>
<text x="134.10000000000002" y="396.5" font-family="Liberation Sans, sans-serif" font-size="8.5" text-anchor="middle" fill="#111" >12</text>
<text x="161.0" y="396.5" font-family="Liberation Sans, sans-serif" font-size="8.5" text-anchor="middle" fill="#111" >24</text>
<line x1="46" y1="401.5" x2="167" y2="401.5" stroke="#111" stroke-width="1.4"/>
<path d="M166,397.3 L175.3,401.5 L166,405.7 Z" fill="#111"/>
<text x="110" y="411.5" font-family="Liberation Serif, serif" font-size="10" text-anchor="middle" fill="#222" >Time (hours)</text>
<text transform="translate(16.2,335) rotate(-90)" font-family="Liberation Serif, serif" font-size="10.4" font-weight="bold" text-anchor="middle" fill="#111" xml:space="preserve">% of  TRAIL <tspan font-size="6" dy="-3.5">+</tspan><tspan dy="3.5"> pDC</tspan></text>
<path d="M55.4,382.8 L80.6,325.2 L106.8,321.2 L133.8,315.4 L158.5,301.8" fill="none" stroke="#777" stroke-width="1.2" stroke-linejoin="round"/>
<path d="M58.0,383.0 L82.0,379.7 L108.0,381.0 L135.0,377.8 L163.5,371.5" fill="none" stroke="#222" stroke-width="1.2" stroke-linejoin="round"/>
<rect x="53.4" y="380.8" width="4" height="4" fill="#111"/>
<rect x="78.6" y="323.2" width="4" height="4" fill="#111"/>
<rect x="104.8" y="319.2" width="4" height="4" fill="#111"/>
<rect x="131.8" y="313.4" width="4" height="4" fill="#111"/>
<rect x="156.5" y="299.8" width="4" height="4" fill="#111"/>
<path d="M55.4,384.8 L60.6,384.8 L58.0,380.4 Z" fill="#fff" stroke="#111" stroke-width="0.9"/>
<path d="M79.4,381.5 L84.6,381.5 L82.0,377.1 Z" fill="#fff" stroke="#111" stroke-width="0.9"/>
<path d="M105.4,382.8 L110.6,382.8 L108.0,378.4 Z" fill="#fff" stroke="#111" stroke-width="0.9"/>
<path d="M132.4,379.6 L137.6,379.6 L135.0,375.2 Z" fill="#fff" stroke="#111" stroke-width="0.9"/>
<path d="M160.9,373.3 L166.1,373.3 L163.5,368.9 Z" fill="#fff" stroke="#111" stroke-width="0.9"/>
<line x1="179" y1="326.5" x2="196" y2="326.5" stroke="#222" stroke-width="1.5"/>
<path d="M185,328.4 L190.4,328.4 L187.7,323.6 Z" fill="#fff" stroke="#111" stroke-width="0.9"/>
<line x1="179" y1="340" x2="196" y2="340" stroke="#777" stroke-width="1.2"/>
<rect x="186" y="338.3" width="3.4" height="3.4" fill="#111"/>
<text x="202.5" y="327.5" font-family="Liberation Serif, serif" font-size="9.9" text-anchor="start" fill="#222" >unstimulated</text>
<text x="203" y="342" font-family="Liberation Serif, serif" font-size="9.9" text-anchor="start" fill="#222" >HTLV-1</text>
<rect x="16.8" y="448.5" width="64.60000000000001" height="65.70000000000005" fill="none" stroke="#2a2a2a" stroke-width="1.05"/>
<line x1="16.3" y1="514.2" x2="81.9" y2="514.2" stroke="#111" stroke-width="1.5"/>
<text x="15.600000000000001" y="516.2" font-family="Liberation Sans, sans-serif" font-size="5.2" text-anchor="end" fill="#606060">0</text>
<text x="15.600000000000001" y="503.7" font-family="Liberation Sans, sans-serif" font-size="5.2" text-anchor="end" fill="#606060">20</text>
<text x="15.600000000000001" y="491.1" font-family="Liberation Sans, sans-serif" font-size="5.2" text-anchor="end" fill="#606060">40</text>
<text x="15.600000000000001" y="478.6" font-family="Liberation Sans, sans-serif" font-size="5.2" text-anchor="end" fill="#606060">60</text>
<text x="15.600000000000001" y="466.0" font-family="Liberation Sans, sans-serif" font-size="5.2" text-anchor="end" fill="#606060">80</text>
<text x="15.600000000000001" y="453.5" font-family="Liberation Sans, sans-serif" font-size="5.2" text-anchor="end" fill="#606060">10</text>
<line x1="16.8" y1="514.2" x2="16.8" y2="516.2" stroke="#222" stroke-width="0.8"/>
<text x="16.8" y="520.5" font-family="Liberation Sans, sans-serif" font-size="4.4" text-anchor="middle" fill="#333">10</text>
<line x1="32.7" y1="514.2" x2="32.7" y2="516.2" stroke="#222" stroke-width="0.8"/>
<text x="32.7" y="520.5" font-family="Liberation Sans, sans-serif" font-size="4.4" text-anchor="middle" fill="#333">10</text>
<line x1="48.6" y1="514.2" x2="48.6" y2="516.2" stroke="#222" stroke-width="0.8"/>
<text x="48.6" y="520.5" font-family="Liberation Sans, sans-serif" font-size="4.4" text-anchor="middle" fill="#333">10</text>
<line x1="64.5" y1="514.2" x2="64.5" y2="516.2" stroke="#222" stroke-width="0.8"/>
<text x="64.5" y="520.5" font-family="Liberation Sans, sans-serif" font-size="4.4" text-anchor="middle" fill="#333">10</text>
<line x1="80.4" y1="514.2" x2="80.4" y2="516.2" stroke="#222" stroke-width="0.8"/>
<text x="80.4" y="520.5" font-family="Liberation Sans, sans-serif" font-size="4.4" text-anchor="middle" fill="#333">10</text>
<line x1="16.8" y1="515.4000000000001" x2="81.4" y2="515.4000000000001" stroke="#666" stroke-width="1" stroke-dasharray="0.5,1.2"/>
<text transform="translate(8.8,479.35) rotate(-90)" font-family="Liberation Sans, sans-serif" font-size="5.6" text-anchor="middle" fill="#555">Events</text>
<rect x="103" y="448.3" width="65.80000000000001" height="66.19999999999999" fill="none" stroke="#111" stroke-width="1.3"/>
<line x1="102.5" y1="514.5" x2="169.3" y2="514.5" stroke="#111" stroke-width="1.5"/>
<line x1="100.8" y1="514.5" x2="103" y2="514.5" stroke="#222" stroke-width="0.9"/>
<rect x="97.7" y="513.4" width="3.4" height="2.3" rx="0.6" fill="#2a2a2a"/>
<line x1="100.8" y1="501.9" x2="103" y2="501.9" stroke="#222" stroke-width="0.9"/>
<rect x="97.7" y="500.7" width="3.4" height="2.3" rx="0.6" fill="#2a2a2a"/>
<line x1="100.8" y1="489.2" x2="103" y2="489.2" stroke="#222" stroke-width="0.9"/>
<rect x="97.7" y="488.1" width="3.4" height="2.3" rx="0.6" fill="#2a2a2a"/>
<line x1="100.8" y1="476.6" x2="103" y2="476.6" stroke="#222" stroke-width="0.9"/>
<rect x="97.7" y="475.4" width="3.4" height="2.3" rx="0.6" fill="#2a2a2a"/>
<line x1="100.8" y1="463.9" x2="103" y2="463.9" stroke="#222" stroke-width="0.9"/>
<rect x="97.7" y="462.8" width="3.4" height="2.3" rx="0.6" fill="#2a2a2a"/>
<line x1="100.8" y1="451.3" x2="103" y2="451.3" stroke="#222" stroke-width="0.9"/>
<rect x="97.7" y="450.2" width="3.4" height="2.3" rx="0.6" fill="#2a2a2a"/>
<line x1="101.7" y1="512.0" x2="103" y2="512.0" stroke="#444" stroke-width="0.7"/>
<line x1="101.7" y1="509.4" x2="103" y2="509.4" stroke="#444" stroke-width="0.7"/>
<line x1="101.7" y1="506.9" x2="103" y2="506.9" stroke="#444" stroke-width="0.7"/>
<line x1="101.7" y1="504.4" x2="103" y2="504.4" stroke="#444" stroke-width="0.7"/>
<line x1="101.7" y1="499.3" x2="103" y2="499.3" stroke="#444" stroke-width="0.7"/>
<line x1="101.7" y1="496.8" x2="103" y2="496.8" stroke="#444" stroke-width="0.7"/>
<line x1="101.7" y1="494.3" x2="103" y2="494.3" stroke="#444" stroke-width="0.7"/>
<line x1="101.7" y1="491.7" x2="103" y2="491.7" stroke="#444" stroke-width="0.7"/>
<line x1="101.7" y1="486.7" x2="103" y2="486.7" stroke="#444" stroke-width="0.7"/>
<line x1="101.7" y1="484.2" x2="103" y2="484.2" stroke="#444" stroke-width="0.7"/>
<line x1="101.7" y1="481.6" x2="103" y2="481.6" stroke="#444" stroke-width="0.7"/>
<line x1="101.7" y1="479.1" x2="103" y2="479.1" stroke="#444" stroke-width="0.7"/>
<line x1="101.7" y1="474.1" x2="103" y2="474.1" stroke="#444" stroke-width="0.7"/>
<line x1="101.7" y1="471.5" x2="103" y2="471.5" stroke="#444" stroke-width="0.7"/>
<line x1="101.7" y1="469.0" x2="103" y2="469.0" stroke="#444" stroke-width="0.7"/>
<line x1="101.7" y1="466.5" x2="103" y2="466.5" stroke="#444" stroke-width="0.7"/>
<line x1="101.7" y1="461.4" x2="103" y2="461.4" stroke="#444" stroke-width="0.7"/>
<line x1="101.7" y1="458.9" x2="103" y2="458.9" stroke="#444" stroke-width="0.7"/>
<line x1="101.7" y1="456.4" x2="103" y2="456.4" stroke="#444" stroke-width="0.7"/>
<line x1="101.7" y1="453.8" x2="103" y2="453.8" stroke="#444" stroke-width="0.7"/>
<line x1="103.0" y1="514.5" x2="103.0" y2="516.5" stroke="#222" stroke-width="0.8"/>
<rect x="102.0" y="519.1" width="2.2" height="2.6" fill="#333"/>
<rect x="104.6" y="517.8" width="1.5" height="1.7" fill="#444"/>
<line x1="119.2" y1="514.5" x2="119.2" y2="516.5" stroke="#222" stroke-width="0.8"/>
<rect x="118.2" y="519.1" width="2.2" height="2.6" fill="#333"/>
<rect x="120.8" y="517.8" width="1.5" height="1.7" fill="#444"/>
<line x1="135.4" y1="514.5" x2="135.4" y2="516.5" stroke="#222" stroke-width="0.8"/>
<rect x="134.4" y="519.1" width="2.2" height="2.6" fill="#333"/>
<rect x="137.0" y="517.8" width="1.5" height="1.7" fill="#444"/>
<line x1="151.6" y1="514.5" x2="151.6" y2="516.5" stroke="#222" stroke-width="0.8"/>
<rect x="150.6" y="519.1" width="2.2" height="2.6" fill="#333"/>
<rect x="153.2" y="517.8" width="1.5" height="1.7" fill="#444"/>
<line x1="167.8" y1="514.5" x2="167.8" y2="516.5" stroke="#222" stroke-width="0.8"/>
<rect x="166.8" y="519.1" width="2.2" height="2.6" fill="#333"/>
<rect x="169.4" y="517.8" width="1.5" height="1.7" fill="#444"/>
<line x1="103" y1="515.7" x2="168.8" y2="515.7" stroke="#666" stroke-width="1" stroke-dasharray="0.5,1.2"/>
<text transform="translate(93.2,473.4) rotate(-90)" font-family="Liberation Sans, sans-serif" font-size="5.6" text-anchor="middle" fill="#555">Events</text>
<rect x="189.8" y="448" width="69.89999999999998" height="66.5" fill="none" stroke="#111" stroke-width="1.3"/>
<line x1="189.3" y1="514.5" x2="260.2" y2="514.5" stroke="#111" stroke-width="1.5"/>
<line x1="187.60000000000002" y1="514.5" x2="189.8" y2="514.5" stroke="#222" stroke-width="0.9"/>
<rect x="184.5" y="513.4" width="3.4" height="2.3" rx="0.6" fill="#2a2a2a"/>
<line x1="187.60000000000002" y1="501.8" x2="189.8" y2="501.8" stroke="#222" stroke-width="0.9"/>
<rect x="184.5" y="500.7" width="3.4" height="2.3" rx="0.6" fill="#2a2a2a"/>
<line x1="187.60000000000002" y1="489.1" x2="189.8" y2="489.1" stroke="#222" stroke-width="0.9"/>
<rect x="184.5" y="488.0" width="3.4" height="2.3" rx="0.6" fill="#2a2a2a"/>
<line x1="187.60000000000002" y1="476.4" x2="189.8" y2="476.4" stroke="#222" stroke-width="0.9"/>
<rect x="184.5" y="475.2" width="3.4" height="2.3" rx="0.6" fill="#2a2a2a"/>
<line x1="187.60000000000002" y1="463.7" x2="189.8" y2="463.7" stroke="#222" stroke-width="0.9"/>
<rect x="184.5" y="462.6" width="3.4" height="2.3" rx="0.6" fill="#2a2a2a"/>
<line x1="187.60000000000002" y1="451.0" x2="189.8" y2="451.0" stroke="#222" stroke-width="0.9"/>
<rect x="184.5" y="449.9" width="3.4" height="2.3" rx="0.6" fill="#2a2a2a"/>
<line x1="188.5" y1="512.0" x2="189.8" y2="512.0" stroke="#444" stroke-width="0.7"/>
<line x1="188.5" y1="509.4" x2="189.8" y2="509.4" stroke="#444" stroke-width="0.7"/>
<line x1="188.5" y1="506.9" x2="189.8" y2="506.9" stroke="#444" stroke-width="0.7"/>
<line x1="188.5" y1="504.3" x2="189.8" y2="504.3" stroke="#444" stroke-width="0.7"/>
<line x1="188.5" y1="499.3" x2="189.8" y2="499.3" stroke="#444" stroke-width="0.7"/>
<line x1="188.5" y1="496.7" x2="189.8" y2="496.7" stroke="#444" stroke-width="0.7"/>
<line x1="188.5" y1="494.2" x2="189.8" y2="494.2" stroke="#444" stroke-width="0.7"/>
<line x1="188.5" y1="491.6" x2="189.8" y2="491.6" stroke="#444" stroke-width="0.7"/>
<line x1="188.5" y1="486.6" x2="189.8" y2="486.6" stroke="#444" stroke-width="0.7"/>
<line x1="188.5" y1="484.0" x2="189.8" y2="484.0" stroke="#444" stroke-width="0.7"/>
<line x1="188.5" y1="481.5" x2="189.8" y2="481.5" stroke="#444" stroke-width="0.7"/>
<line x1="188.5" y1="478.9" x2="189.8" y2="478.9" stroke="#444" stroke-width="0.7"/>
<line x1="188.5" y1="473.9" x2="189.8" y2="473.9" stroke="#444" stroke-width="0.7"/>
<line x1="188.5" y1="471.3" x2="189.8" y2="471.3" stroke="#444" stroke-width="0.7"/>
<line x1="188.5" y1="468.8" x2="189.8" y2="468.8" stroke="#444" stroke-width="0.7"/>
<line x1="188.5" y1="466.2" x2="189.8" y2="466.2" stroke="#444" stroke-width="0.7"/>
<line x1="188.5" y1="461.2" x2="189.8" y2="461.2" stroke="#444" stroke-width="0.7"/>
<line x1="188.5" y1="458.6" x2="189.8" y2="458.6" stroke="#444" stroke-width="0.7"/>
<line x1="188.5" y1="456.1" x2="189.8" y2="456.1" stroke="#444" stroke-width="0.7"/>
<line x1="188.5" y1="453.5" x2="189.8" y2="453.5" stroke="#444" stroke-width="0.7"/>
<line x1="189.8" y1="514.5" x2="189.8" y2="516.5" stroke="#222" stroke-width="0.8"/>
<rect x="188.8" y="519.1" width="2.2" height="2.6" fill="#333"/>
<rect x="191.4" y="517.8" width="1.5" height="1.7" fill="#444"/>
<line x1="206.0" y1="514.5" x2="206.0" y2="516.5" stroke="#222" stroke-width="0.8"/>
<rect x="205.0" y="519.1" width="2.2" height="2.6" fill="#333"/>
<rect x="207.6" y="517.8" width="1.5" height="1.7" fill="#444"/>
<line x1="222.2" y1="514.5" x2="222.2" y2="516.5" stroke="#222" stroke-width="0.8"/>
<rect x="221.2" y="519.1" width="2.2" height="2.6" fill="#333"/>
<rect x="223.8" y="517.8" width="1.5" height="1.7" fill="#444"/>
<line x1="238.4" y1="514.5" x2="238.4" y2="516.5" stroke="#222" stroke-width="0.8"/>
<rect x="237.4" y="519.1" width="2.2" height="2.6" fill="#333"/>
<rect x="240.0" y="517.8" width="1.5" height="1.7" fill="#444"/>
<line x1="254.6" y1="514.5" x2="254.6" y2="516.5" stroke="#222" stroke-width="0.8"/>
<rect x="253.6" y="519.1" width="2.2" height="2.6" fill="#333"/>
<rect x="256.2" y="517.8" width="1.5" height="1.7" fill="#444"/>
<line x1="189.8" y1="515.7" x2="259.7" y2="515.7" stroke="#666" stroke-width="1" stroke-dasharray="0.5,1.2"/>
<text transform="translate(180.8,474.25) rotate(-90)" font-family="Liberation Sans, sans-serif" font-size="5.6" text-anchor="middle" fill="#555">Events</text>
<rect x="281.3" y="448" width="65.69999999999999" height="64.70000000000005" fill="none" stroke="#2a2a2a" stroke-width="1.05"/>
<line x1="280.8" y1="512.7" x2="347.5" y2="512.7" stroke="#111" stroke-width="1.5"/>
<text x="280.1" y="514.7" font-family="Liberation Sans, sans-serif" font-size="5.2" text-anchor="end" fill="#606060">0</text>
<text x="280.1" y="502.4" font-family="Liberation Sans, sans-serif" font-size="5.2" text-anchor="end" fill="#606060">20</text>
<text x="280.1" y="490.0" font-family="Liberation Sans, sans-serif" font-size="5.2" text-anchor="end" fill="#606060">40</text>
<text x="280.1" y="477.7" font-family="Liberation Sans, sans-serif" font-size="5.2" text-anchor="end" fill="#606060">60</text>
<text x="280.1" y="465.3" font-family="Liberation Sans, sans-serif" font-size="5.2" text-anchor="end" fill="#606060">80</text>
<text x="280.1" y="453.0" font-family="Liberation Sans, sans-serif" font-size="5.2" text-anchor="end" fill="#606060">10</text>
<line x1="281.3" y1="512.7" x2="281.3" y2="514.7" stroke="#222" stroke-width="0.8"/>
<text x="281.3" y="519.0" font-family="Liberation Sans, sans-serif" font-size="4.4" text-anchor="middle" fill="#333">10</text>
<line x1="297.5" y1="512.7" x2="297.5" y2="514.7" stroke="#222" stroke-width="0.8"/>
<text x="297.5" y="519.0" font-family="Liberation Sans, sans-serif" font-size="4.4" text-anchor="middle" fill="#333">10</text>
<line x1="313.6" y1="512.7" x2="313.6" y2="514.7" stroke="#222" stroke-width="0.8"/>
<text x="313.6" y="519.0" font-family="Liberation Sans, sans-serif" font-size="4.4" text-anchor="middle" fill="#333">10</text>
<line x1="329.8" y1="512.7" x2="329.8" y2="514.7" stroke="#222" stroke-width="0.8"/>
<text x="329.8" y="519.0" font-family="Liberation Sans, sans-serif" font-size="4.4" text-anchor="middle" fill="#333">10</text>
<line x1="346.0" y1="512.7" x2="346.0" y2="514.7" stroke="#222" stroke-width="0.8"/>
<text x="346.0" y="519.0" font-family="Liberation Sans, sans-serif" font-size="4.4" text-anchor="middle" fill="#333">10</text>
<line x1="281.3" y1="513.9000000000001" x2="347" y2="513.9000000000001" stroke="#666" stroke-width="1" stroke-dasharray="0.5,1.2"/>
<text transform="translate(273.5,474.85) rotate(-90)" font-family="Liberation Sans, sans-serif" font-size="5.6" text-anchor="middle" fill="#555">Events</text>
<rect x="367.3" y="448" width="64.5" height="65.60000000000002" fill="none" stroke="#2a2a2a" stroke-width="1.05"/>
<line x1="366.8" y1="513.6" x2="432.3" y2="513.6" stroke="#111" stroke-width="1.5"/>
<text x="366.1" y="515.6" font-family="Liberation Sans, sans-serif" font-size="5.2" text-anchor="end" fill="#606060">0</text>
<text x="366.1" y="503.1" font-family="Liberation Sans, sans-serif" font-size="5.2" text-anchor="end" fill="#606060">20</text>
<text x="366.1" y="490.6" font-family="Liberation Sans, sans-serif" font-size="5.2" text-anchor="end" fill="#606060">40</text>
<text x="366.1" y="478.0" font-family="Liberation Sans, sans-serif" font-size="5.2" text-anchor="end" fill="#606060">60</text>
<text x="366.1" y="465.5" font-family="Liberation Sans, sans-serif" font-size="5.2" text-anchor="end" fill="#606060">80</text>
<text x="366.1" y="453.0" font-family="Liberation Sans, sans-serif" font-size="5.2" text-anchor="end" fill="#606060">10</text>
<line x1="367.3" y1="513.6" x2="367.3" y2="515.6" stroke="#222" stroke-width="0.8"/>
<text x="367.3" y="519.9" font-family="Liberation Sans, sans-serif" font-size="4.4" text-anchor="middle" fill="#333">10</text>
<line x1="383.2" y1="513.6" x2="383.2" y2="515.6" stroke="#222" stroke-width="0.8"/>
<text x="383.2" y="519.9" font-family="Liberation Sans, sans-serif" font-size="4.4" text-anchor="middle" fill="#333">10</text>
<line x1="399.1" y1="513.6" x2="399.1" y2="515.6" stroke="#222" stroke-width="0.8"/>
<text x="399.1" y="519.9" font-family="Liberation Sans, sans-serif" font-size="4.4" text-anchor="middle" fill="#333">10</text>
<line x1="414.9" y1="513.6" x2="414.9" y2="515.6" stroke="#222" stroke-width="0.8"/>
<text x="414.9" y="519.9" font-family="Liberation Sans, sans-serif" font-size="4.4" text-anchor="middle" fill="#333">10</text>
<line x1="430.8" y1="513.6" x2="430.8" y2="515.6" stroke="#222" stroke-width="0.8"/>
<text x="430.8" y="519.9" font-family="Liberation Sans, sans-serif" font-size="4.4" text-anchor="middle" fill="#333">10</text>
<line x1="367.3" y1="514.8000000000001" x2="431.8" y2="514.8000000000001" stroke="#666" stroke-width="1" stroke-dasharray="0.5,1.2"/>
<text transform="translate(357.90000000000003,477.8) rotate(-90)" font-family="Liberation Sans, sans-serif" font-size="5.6" text-anchor="middle" fill="#555">Events</text>
<text x="48.8" y="533.7" font-family="Liberation Serif, serif" font-size="10" font-weight="bold" text-anchor="middle" fill="#111" >CD40</text>
<text x="136" y="533.7" font-family="Liberation Serif, serif" font-size="10" font-weight="bold" text-anchor="middle" fill="#111" >CD83</text>
<text x="221.5" y="533.7" font-family="Liberation Serif, serif" font-size="10" font-weight="bold" text-anchor="middle" fill="#111" >CD86</text>
<text x="311.5" y="533.7" font-family="Liberation Serif, serif" font-size="10" font-weight="bold" text-anchor="middle" fill="#111" >CXCR4</text>
<text x="398.4" y="533.9" font-family="Liberation Serif, serif" font-size="10" font-weight="bold" text-anchor="middle" fill="#111" >CCR5</text>
<path d="M18.2,513.7 L19.4,512.7 L20.8,511.8 L21.4,510.5 L22.2,509.3 L22.9,508.1 L23.1,507.2 L23.7,505.8 L24.4,504.4 L24.4,502.7 L24.8,502.2 L25.0,500.0 L25.6,498.8 L25.6,497.3 L26.0,496.3 L26.3,495.3 L26.2,493.2 L26.8,492.3 L26.9,489.9 L27.0,489.4 L27.3,487.3 L27.2,486.5 L27.3,485.0 L27.5,483.0 L27.7,482.0 L28.1,480.9 L28.3,479.9 L28.3,478.6 L28.2,476.6 L28.4,475.6 L28.3,474.4 L28.8,472.5 L28.8,471.7 L28.8,469.8 L29.0,469.4 L28.9,468.2 L29.3,466.3 L29.4,464.9 L29.3,463.7 L29.8,461.8 L29.5,460.5 L29.9,459.3 L29.9,458.6 L30.3,456.7 L30.3,455.1 L30.6,454.0 L30.6,451.9 L31.2,453.7 L31.6,455.9 L31.6,457.6 L32.0,459.0 L31.7,460.0 L32.0,461.5 L32.0,462.7 L32.5,464.1 L32.6,465.5 L32.5,466.9 L32.7,468.9 L32.8,469.5 L33.0,471.4 L33.0,472.8 L33.3,473.8 L33.4,475.0 L33.2,476.3 L33.6,477.2 L33.8,479.2 L33.8,480.4 L34.0,481.2 L33.9,482.4 L34.0,483.7 L34.1,485.2 L34.3,486.9 L34.5,487.7 L34.6,489.6 L34.6,490.1 L34.6,492.3 L34.9,492.9 L34.9,494.3 L35.0,496.1 L35.0,496.8 L35.4,498.4 L35.6,499.8 L35.5,500.9 L35.8,503.0 L36.2,504.3 L36.0,505.5 L36.4,506.6 L36.7,508.2 L36.8,509.4 L37.2,510.9 L37.8,512.3 L38.4,513.7 Z" fill="#c4c4c4" stroke="#555" stroke-width="1.0" stroke-linejoin="round"/>
<path d="M17.3,513.7 L18.1,512.5 L19.1,511.4 L19.9,510.3 L20.8,509.0 L21.3,508.2 L21.9,507.2 L22.0,505.4 L22.6,504.5 L23.3,502.5 L23.9,502.2 L24.1,501.1 L24.4,498.8 L24.7,498.5 L25.0,496.3 L25.3,494.9 L25.7,493.9 L26.4,492.6 L26.6,491.1 L26.8,490.4 L27.3,488.8 L27.4,487.4 L27.8,485.7 L28.5,484.3 L28.5,482.9 L29.2,481.5 L29.6,480.1 L29.7,478.3 L30.1,477.5 L30.7,475.8 L30.9,474.3 L31.6,472.6 L31.9,471.9 L32.2,470.3 L32.3,469.2 L32.6,467.4 L32.8,465.6 L33.0,464.9 L33.5,463.7 L33.9,462.2 L33.9,460.9 L34.1,459.2 L34.8,457.6 L35.3,456.8 L35.4,455.6 L36.2,454.4 L36.4,455.5 L37.1,457.1 L37.6,455.9 L38.6,454.9 L39.0,455.8 L39.3,457.7 L39.7,459.5 L39.8,458.0 L40.1,456.8 L40.6,454.3 L40.7,453.7 L40.8,452.4 L41.0,453.2 L41.6,455.6 L41.6,456.4 L42.0,458.1 L42.4,459.1 L42.6,460.8 L42.7,462.1 L43.6,464.6 L44.5,466.5 L44.4,467.7 L45.2,469.1 L45.1,470.5 L45.9,471.7 L45.8,473.8 L46.2,474.4 L46.2,475.9 L46.7,477.7 L46.6,478.3 L47.2,479.8 L47.1,480.7 L47.7,482.6 L47.7,483.5 L48.0,485.1 L48.1,485.9 L48.3,487.3 L48.7,488.4 L49.2,489.9 L49.5,491.3 L49.5,493.1 L49.9,493.7 L50.2,495.3 L50.5,496.2 L50.7,498.2 L51.2,499.0 L51.5,500.3 L51.4,502.1 L51.7,503.1 L52.4,505.0 L53.1,505.7 L53.5,507.9 L53.9,509.2 L54.7,510.6 L55.5,511.5 L56.2,512.7 L58.5,513.7" fill="none" stroke="#444" stroke-width="1.05" stroke-linejoin="round"/>
<path d="M17.3,513.7 L19.0,512.3 L19.7,511.1 L20.5,509.7 L21.0,508.6 L21.6,507.2 L22.3,505.7 L22.5,504.5 L23.1,503.6 L23.2,501.6 L23.4,500.5 L24.0,499.4 L24.3,497.9 L24.5,497.1 L24.6,495.6 L25.1,493.6 L25.0,492.5 L25.4,491.9 L25.4,489.8 L25.6,488.6 L25.9,487.0 L26.1,486.1 L26.1,484.6 L26.6,483.2 L26.7,482.7 L26.7,480.7 L26.9,479.4 L27.1,478.0 L27.2,476.9 L27.5,476.1 L27.6,474.6 L28.0,473.3 L27.8,471.8 L28.1,470.7 L28.1,469.7 L28.2,468.5 L28.6,466.9 L28.9,465.3 L28.7,464.4 L29.1,462.9 L29.1,461.1 L29.5,460.4 L29.6,459.0 L29.7,457.7 L30.1,456.9 L30.0,455.0 L30.6,453.4 L30.6,451.9 L31.4,453.5 L31.7,455.7 L32.1,457.0 L32.2,458.7 L32.4,459.4 L32.5,461.2 L32.5,462.3 L32.8,463.4 L32.8,464.8 L32.7,465.7 L33.0,467.0 L33.0,468.6 L33.5,469.5 L33.6,470.7 L33.6,472.7 L33.7,474.3 L34.0,474.5 L34.1,476.2 L33.9,478.0 L34.0,478.5 L34.6,480.7 L34.4,481.5 L34.9,483.0 L35.1,484.8 L35.2,486.4 L35.2,487.6 L35.9,488.1 L36.0,490.1 L36.3,491.0 L36.7,492.6 L37.1,494.2 L37.7,495.3 L38.2,496.9 L38.8,498.7 L39.8,500.4 L40.7,501.3 L41.3,502.3 L42.5,503.5 L43.5,505.1 L44.8,506.4 L45.4,507.3 L46.0,508.7 L46.8,510.0 L47.5,510.8 L48.9,512.2 L50.2,513.3 L51.6,513.7" fill="none" stroke="#111" stroke-width="1.25" stroke-linejoin="round"/>
<path d="M102.3,514.0 L103.6,512.9 L104.9,511.9 L106.0,510.8 L107.2,509.8 L108.2,508.2 L108.9,507.1 L109.7,505.5 L110.4,504.8 L110.8,502.7 L111.5,501.4 L112.1,500.5 L112.5,499.1 L112.9,497.2 L113.2,495.5 L113.8,494.4 L114.0,493.0 L114.3,491.5 L114.8,490.5 L115.2,489.1 L115.1,487.2 L115.8,485.8 L115.8,485.0 L116.1,483.6 L116.2,482.1 L116.9,480.5 L116.9,478.6 L117.1,476.8 L117.8,478.6 L118.0,477.2 L118.2,475.9 L118.3,474.9 L118.5,474.2 L118.9,472.5 L119.1,471.4 L119.2,469.8 L119.4,467.8 L119.4,466.6 L119.7,465.7 L119.7,463.8 L120.1,462.2 L120.0,461.3 L120.1,459.9 L120.5,458.3 L120.8,457.8 L120.9,456.1 L121.1,454.4 L121.3,453.8 L122.1,452.2 L122.3,452.9 L122.3,454.8 L122.8,455.5 L122.8,457.3 L123.2,458.6 L123.3,460.1 L123.5,461.5 L123.6,462.5 L123.7,463.8 L123.8,465.4 L124.0,466.4 L124.1,468.7 L124.4,470.2 L124.3,471.1 L124.8,473.0 L124.8,473.8 L124.9,475.7 L124.9,476.5 L125.2,478.6 L125.2,480.0 L125.6,481.7 L125.8,482.7 L125.8,483.9 L126.1,485.6 L126.0,487.5 L126.1,488.8 L126.5,490.3 L126.3,491.5 L126.6,492.6 L126.7,494.2 L126.9,495.2 L127.3,497.5 L127.6,498.8 L127.7,499.8 L127.8,500.9 L127.9,501.9 L128.1,503.1 L128.5,505.4 L128.4,506.7 L128.9,508.3 L129.1,509.5 L129.4,511.1 L130.2,512.4 L130.8,514.0 Z" fill="#c4c4c4" stroke="#555" stroke-width="1.0" stroke-linejoin="round"/>
<path d="M102.3,514.0 L103.4,513.3 L104.5,512.5 L105.6,511.6 L106.7,511.0 L107.6,510.0 L108.3,508.6 L109.3,507.9 L110.0,506.9 L110.5,505.8 L111.3,504.3 L112.1,502.2 L112.6,500.9 L113.0,499.7 L113.5,498.0 L114.1,497.3 L114.6,495.0 L115.1,494.4 L115.7,492.9 L115.7,491.2 L116.0,489.7 L116.7,488.5 L116.8,487.1 L117.1,486.3 L117.2,484.7 L117.4,482.8 L117.6,482.3 L117.8,480.9 L118.0,479.5 L118.5,478.4 L118.6,476.2 L119.0,475.0 L118.9,473.8 L119.3,473.3 L119.5,471.0 L119.6,470.6 L119.9,469.3 L120.1,467.6 L120.4,465.9 L120.7,465.1 L120.8,463.7 L121.1,462.4 L121.3,461.4 L121.6,459.9 L122.0,458.2 L122.8,456.4 L123.2,455.0 L124.9,456.9 L125.3,454.7 L125.5,454.1 L125.9,452.9 L126.2,454.0 L126.5,456.0 L127.1,457.0 L127.1,458.5 L127.2,460.1 L127.7,461.5 L128.0,462.5 L128.0,464.2 L128.4,465.6 L128.8,466.7 L129.1,468.2 L129.3,469.1 L129.9,471.0 L131.0,471.7 L131.2,473.3 L131.4,474.9 L131.8,475.8 L132.2,477.3 L132.1,478.8 L132.5,480.3 L132.9,481.7 L133.2,482.9 L133.3,484.4 L133.4,485.9 L134.1,487.0 L134.1,488.0 L134.6,490.0 L135.3,491.2 L135.7,492.7 L136.0,493.5 L136.3,495.2 L136.6,496.2 L137.0,497.8 L137.3,498.4 L137.4,499.7 L137.9,501.2 L137.9,502.8 L138.3,503.8 L138.5,505.7 L138.7,506.9 L139.3,507.6 L139.4,509.1 L140.1,510.8 L140.7,512.6 L142.1,514.0" fill="none" stroke="#444" stroke-width="1.05" stroke-linejoin="round"/>
<path d="M102.3,514.0 L102.8,512.7 L103.3,511.6 L103.8,510.2 L104.8,508.9 L105.8,508.1 L106.6,507.1 L107.5,506.1 L108.6,505.2 L109.1,503.4 L109.6,502.7 L110.3,500.6 L111.0,500.0 L111.6,497.8 L112.2,496.5 L112.5,494.8 L113.2,493.5 L113.5,491.9 L113.7,490.8 L114.1,489.2 L114.6,488.6 L114.8,487.2 L115.0,485.1 L115.1,484.3 L115.3,483.4 L115.5,481.2 L115.7,479.9 L116.1,478.6 L116.4,478.1 L116.5,476.5 L116.9,474.7 L116.9,474.0 L117.2,472.6 L117.5,471.4 L117.6,469.5 L118.0,468.9 L118.4,466.8 L118.4,465.7 L118.6,464.1 L119.1,463.4 L119.2,461.8 L119.5,460.1 L119.7,459.0 L120.2,457.6 L120.1,457.0 L120.5,454.9 L121.3,453.8 L121.6,451.7 L122.3,451.5 L122.8,453.3 L123.2,454.9 L123.4,456.0 L123.5,457.2 L123.7,458.4 L124.1,460.0 L124.4,461.1 L124.4,462.1 L124.6,463.9 L124.6,465.4 L124.9,466.9 L125.0,467.2 L125.3,469.1 L125.3,470.8 L125.5,472.2 L125.5,473.4 L125.5,474.9 L125.8,476.3 L126.0,477.7 L126.1,479.4 L126.1,480.7 L126.5,482.6 L126.7,483.8 L126.6,484.5 L126.8,486.3 L127.0,487.8 L127.3,489.4 L127.3,491.0 L127.7,492.6 L127.5,494.1 L127.8,495.2 L128.3,496.9 L128.3,498.1 L128.5,499.8 L128.6,501.1 L129.1,501.9 L129.2,504.1 L129.4,504.6 L129.7,506.9 L130.0,508.0 L130.3,509.5 L130.9,510.7 L131.5,511.6 L132.0,513.0 L133.4,514.0" fill="none" stroke="#222" stroke-width="1.2" stroke-linejoin="round"/>
<path d="M190.0,514.0 L191.2,513.4 L192.5,512.7 L193.8,512.1 L194.8,510.7 L195.8,509.4 L197.0,508.2 L197.6,506.4 L198.2,505.6 L199.0,504.5 L199.2,503.0 L199.9,500.8 L200.4,499.8 L200.7,499.1 L201.1,497.7 L201.4,495.7 L201.7,494.7 L202.2,493.2 L202.3,493.0 L202.6,491.1 L203.0,489.4 L203.6,488.5 L203.7,487.1 L204.3,485.4 L204.7,483.8 L204.7,482.5 L205.0,481.1 L205.3,479.1 L205.5,477.5 L205.5,476.7 L205.8,475.3 L206.2,473.9 L206.7,471.8 L206.6,470.4 L206.9,469.5 L207.2,468.1 L207.5,466.7 L207.6,465.0 L208.0,464.0 L208.5,462.3 L208.5,460.2 L208.7,459.3 L209.2,458.0 L209.4,456.0 L209.8,455.5 L210.6,454.1 L211.1,452.9 L212.0,451.8 L212.1,453.9 L212.7,455.2 L213.2,455.9 L212.9,457.5 L213.3,458.9 L213.5,460.1 L213.6,462.0 L213.9,463.8 L214.2,465.5 L214.3,466.8 L214.3,468.2 L214.4,468.8 L214.8,470.8 L214.7,472.3 L214.9,473.1 L214.8,474.5 L215.2,475.9 L215.3,478.3 L215.5,478.8 L215.6,480.3 L215.8,482.2 L215.6,483.1 L215.7,484.6 L216.1,486.7 L216.1,487.2 L216.5,488.7 L216.2,490.4 L216.5,492.2 L216.8,493.6 L216.9,494.4 L216.9,496.7 L217.3,497.4 L217.6,498.7 L217.8,501.0 L217.9,502.4 L218.1,503.5 L218.5,505.1 L218.6,506.0 L218.8,507.7 L219.3,508.9 L219.5,510.5 L220.1,511.6 L220.6,512.8 L221.2,514.0 Z" fill="#c4c4c4" stroke="#555" stroke-width="1.0" stroke-linejoin="round"/>
<path d="M216.2,514.0 L217.5,512.7 L218.7,511.3 L219.2,510.1 L219.7,508.8 L220.2,507.4 L220.8,506.1 L221.2,504.8 L221.2,503.4 L221.6,502.0 L221.9,500.0 L222.2,498.4 L222.6,497.5 L222.7,496.6 L222.8,494.1 L223.1,492.9 L223.0,492.2 L223.3,490.7 L223.6,488.6 L223.7,487.4 L223.9,485.8 L224.0,484.9 L224.2,483.1 L224.4,482.0 L224.4,480.6 L224.8,479.3 L225.1,478.0 L224.9,476.4 L225.3,474.9 L225.5,473.6 L225.7,471.6 L225.6,470.9 L225.8,468.5 L225.9,467.7 L226.2,466.2 L226.1,465.0 L226.4,462.8 L226.6,462.1 L226.6,460.6 L226.9,458.4 L226.8,457.7 L227.3,455.4 L227.4,454.3 L227.7,452.2 L227.8,453.5 L227.8,455.2 L228.4,457.0 L228.4,458.0 L228.4,460.1 L228.8,458.6 L228.8,456.6 L229.0,455.5 L229.2,453.4 L229.7,455.9 L229.9,457.3 L230.2,458.6 L230.1,460.7 L230.1,461.9 L230.5,462.9 L230.5,464.5 L230.6,465.6 L230.6,467.5 L230.7,469.1 L230.8,470.2 L231.1,472.2 L231.1,473.7 L231.4,474.9 L231.6,475.6 L231.4,477.5 L231.5,478.8 L231.7,480.6 L231.8,481.7 L232.0,483.4 L232.1,484.4 L232.1,486.6 L232.4,487.9 L232.6,488.9 L232.3,490.1 L232.4,491.7 L232.6,492.7 L232.8,494.6 L232.9,496.5 L232.8,497.5 L233.1,498.4 L233.5,500.2 L233.2,502.2 L233.6,502.8 L233.7,505.3 L233.9,505.8 L234.1,508.0 L234.2,509.5 L234.3,511.1 L234.5,512.4 L235.5,514.0" fill="none" stroke="#444" stroke-width="1.05" stroke-linejoin="round"/>
<path d="M190.0,514.0 L191.2,513.1 L192.5,512.3 L193.8,511.5 L194.5,510.3 L195.5,509.0 L196.3,508.0 L196.8,506.6 L197.6,505.5 L198.4,504.5 L198.7,502.8 L199.4,501.6 L199.9,499.7 L200.4,498.2 L200.6,497.0 L201.1,496.4 L201.5,495.1 L202.0,494.1 L202.1,493.0 L202.3,491.1 L202.6,489.9 L203.2,489.1 L203.4,487.0 L203.5,486.2 L204.0,485.0 L204.4,483.3 L204.3,481.5 L204.9,480.8 L205.1,478.6 L205.3,477.8 L205.8,475.9 L206.0,475.3 L206.2,473.1 L206.5,472.2 L206.6,470.9 L207.1,469.6 L207.1,467.3 L207.4,466.6 L207.9,465.3 L208.1,463.2 L208.3,461.7 L208.7,460.3 L209.0,458.8 L209.1,457.6 L209.3,455.9 L209.6,454.5 L210.6,454.0 L211.1,451.6 L212.7,452.5 L212.8,454.1 L213.0,456.0 L213.5,457.2 L213.7,459.3 L213.8,460.2 L213.9,462.2 L214.2,462.9 L214.2,464.6 L214.7,465.9 L214.6,467.4 L214.7,469.6 L215.1,471.0 L215.1,471.9 L215.2,472.9 L215.6,474.8 L215.6,475.8 L215.8,478.2 L215.9,479.1 L215.7,480.4 L216.2,481.9 L216.2,482.9 L216.2,484.3 L216.3,486.6 L216.6,487.8 L217.1,488.9 L217.2,490.6 L217.4,492.5 L217.5,493.1 L217.7,495.4 L218.0,496.1 L218.3,497.8 L218.8,499.1 L218.8,501.5 L219.1,502.5 L219.6,503.9 L219.9,504.5 L220.5,505.7 L221.0,507.7 L221.9,508.9 L223.1,510.7 L224.2,511.4 L225.5,512.5 L227.1,513.2 L228.8,514.0" fill="none" stroke="#111" stroke-width="1.25" stroke-linejoin="round"/>
<path d="M299.6,512.0 L300.9,510.6 L302.2,509.0 L303.0,508.0 L303.6,506.0 L304.4,505.2 L305.1,503.1 L305.4,501.9 L305.7,501.1 L306.0,500.2 L306.4,498.3 L306.8,497.2 L307.5,495.2 L307.6,494.1 L308.2,492.7 L308.4,490.7 L308.4,489.2 L308.8,487.7 L309.1,487.1 L309.6,485.9 L309.6,483.6 L310.0,482.1 L310.3,481.3 L310.6,479.3 L310.9,478.0 L310.8,477.0 L311.4,476.2 L311.7,474.1 L311.7,472.6 L312.1,471.6 L312.0,469.6 L312.4,468.3 L312.8,467.7 L313.0,465.5 L313.0,464.3 L313.7,463.3 L313.8,462.5 L314.0,461.1 L314.9,458.7 L315.2,457.5 L315.8,455.5 L315.8,453.6 L316.1,452.8 L316.5,453.7 L316.8,455.1 L317.4,456.2 L318.0,455.3 L318.1,453.0 L318.6,455.4 L318.9,456.9 L319.4,458.0 L320.4,456.9 L320.8,458.0 L320.8,460.2 L321.3,461.6 L321.2,463.5 L321.6,464.9 L321.7,465.3 L321.7,467.4 L322.1,468.6 L322.1,470.0 L322.6,470.8 L322.5,472.3 L322.6,474.2 L323.1,475.7 L323.1,476.6 L323.3,478.0 L323.2,479.0 L323.7,480.2 L323.6,482.5 L323.7,483.5 L323.9,484.7 L324.3,486.1 L324.5,487.8 L324.5,489.2 L324.8,489.8 L324.7,491.7 L324.9,492.8 L325.5,494.6 L325.6,495.2 L325.9,497.5 L325.8,498.9 L326.2,500.2 L326.4,501.7 L326.8,502.8 L327.0,504.4 L327.6,506.5 L327.9,507.8 L328.7,509.4 L329.5,511.0 L331.1,512.0 Z" fill="#c4c4c4" stroke="#555" stroke-width="1.0" stroke-linejoin="round"/>
<path d="M281.4,511.8 L282.9,511.2 L284.3,510.6 L285.8,510.1 L286.9,509.2 L288.1,508.5 L289.3,507.6 L289.9,506.4 L290.4,504.5 L291.0,503.8 L291.9,502.5 L292.3,500.4 L292.7,499.0 L292.7,498.5 L293.3,497.0 L293.6,495.0 L294.0,493.5 L294.3,492.7 L294.3,490.5 L294.7,489.7 L295.2,487.8 L295.2,487.1 L295.6,484.9 L295.8,483.7 L295.9,482.4 L296.0,480.4 L296.5,479.5 L296.8,478.0 L297.0,476.7 L297.0,475.3 L297.1,473.3 L297.6,471.8 L297.8,471.3 L297.9,469.0 L298.2,467.6 L298.4,466.7 L298.4,465.2 L298.9,464.0 L298.9,461.9 L299.2,461.0 L299.5,459.2 L299.9,458.4 L300.5,456.1 L301.9,457.9 L302.1,456.7 L302.4,455.4 L302.6,454.5 L302.6,452.7 L303.2,454.2 L303.7,456.6 L304.2,454.7 L304.4,453.2 L304.9,451.8 L305.5,453.4 L305.9,455.7 L306.9,453.9 L307.3,455.7 L307.1,456.8 L307.7,457.8 L307.7,459.2 L307.9,460.6 L308.4,462.2 L308.6,462.9 L309.6,462.6 L310.0,464.0 L310.0,465.5 L310.4,466.0 L310.6,467.8 L310.6,469.5 L310.8,470.5 L311.1,472.2 L311.2,472.9 L311.2,474.7 L311.5,475.6 L311.7,476.9 L312.0,479.2 L312.2,479.6 L312.3,481.8 L312.6,482.3 L312.8,483.8 L312.8,485.2 L313.3,486.4 L314.5,485.5 L314.6,487.3 L315.1,488.9 L315.7,489.7 L315.7,491.2 L316.3,493.1 L316.4,493.9 L316.9,495.4 L317.5,497.0 L318.2,498.3 L318.5,499.3 L319.8,501.0 L320.9,502.6 L321.9,503.5 L322.9,504.5 L323.9,505.7 L324.7,507.5 L325.5,508.5 L326.8,509.7 L328.1,510.9 L329.4,511.5 L330.7,512.0" fill="none" stroke="#444" stroke-width="1.05" stroke-linejoin="round"/>
<path d="M297.9,512.0 L299.1,510.6 L300.4,509.1 L301.3,507.9 L301.8,506.6 L302.5,504.8 L303.2,503.3 L303.4,501.8 L304.0,501.2 L304.5,499.4 L304.7,498.5 L305.4,497.0 L305.6,495.0 L306.1,494.1 L306.3,491.7 L306.9,491.0 L307.3,489.4 L307.8,487.6 L307.9,485.9 L308.3,484.9 L308.6,483.4 L308.7,481.7 L309.2,479.7 L309.5,478.0 L309.9,476.5 L310.3,475.6 L310.5,473.8 L311.2,472.2 L311.4,471.1 L311.8,469.1 L312.0,467.7 L312.5,467.4 L312.8,465.6 L313.2,464.6 L313.3,462.5 L313.8,461.1 L314.5,459.6 L314.7,459.0 L315.3,457.5 L315.6,456.1 L315.8,453.8 L316.1,452.5" fill="none" stroke="#222" stroke-width="1.1" stroke-linejoin="round"/>
<path d="M291.0,512.0 L292.3,511.0 L293.5,510.0 L294.5,509.0 L295.3,507.7 L296.1,506.3 L296.8,505.2 L297.3,504.1 L297.6,502.6 L298.4,501.8 L298.5,499.8 L299.1,498.4 L299.6,497.2 L300.0,495.4 L300.1,493.8 L300.8,492.1 L300.9,491.6 L301.3,490.3 L301.8,488.0 L302.3,487.0 L302.4,485.6 L303.1,484.0 L303.3,482.8 L304.4,480.7 L305.3,478.6 L305.4,477.8 L306.0,476.1 L306.6,474.3 L307.0,473.7 L307.4,471.3 L308.1,470.6 L308.2,469.1 L308.9,467.9 L309.1,465.5 L309.8,464.1 L310.3,462.7 L310.7,461.2 L311.9,463.3 L312.7,461.4 L312.8,461.0 L313.7,459.3 L315.0,460.3 L315.2,458.4 L315.5,457.3 L315.7,456.2 L315.7,455.1 L315.8,453.6 L316.4,451.8 L316.6,453.4 L316.8,455.1 L317.4,456.5 L317.7,454.5 L318.1,452.6 L318.6,454.6 L318.9,456.1 L318.9,457.4 L319.2,457.8 L320.6,456.3 L320.7,457.6 L320.8,458.8 L321.5,460.8 L321.7,462.2 L321.9,463.9 L321.7,465.0 L322.1,465.9 L321.9,467.3 L322.1,469.3 L322.3,470.6 L322.4,471.8 L322.7,473.1 L322.8,474.3 L323.2,476.0 L323.0,476.9 L323.5,478.2 L323.6,479.5 L323.8,480.6 L323.7,482.0 L324.0,483.9 L324.1,485.1 L324.3,486.5 L324.5,487.6 L324.8,489.3 L325.0,490.2 L325.2,491.7 L325.3,493.0 L325.7,494.0 L325.8,495.9 L325.7,497.2 L326.3,498.2 L326.6,500.3 L326.6,502.1 L327.0,503.7 L327.3,504.7 L327.6,505.5 L327.9,507.0 L328.3,508.3 L329.1,509.7 L330.0,511.3 L331.6,512.0" fill="none" stroke="#111" stroke-width="1.25" stroke-linejoin="round"/>
<path d="M376.0,512.3 L377.7,511.6 L379.4,511.0 L380.6,509.5 L381.9,508.1 L382.6,506.6 L383.2,505.9 L383.7,503.9 L383.9,502.8 L384.4,500.8 L384.4,500.0 L384.7,498.0 L384.9,497.6 L385.5,495.8 L385.5,493.7 L385.9,492.7 L385.8,491.0 L385.9,489.6 L386.5,488.6 L386.3,486.9 L386.8,485.8 L386.9,484.3 L387.2,483.0 L387.4,481.3 L387.5,479.5 L387.8,478.7 L388.1,476.7 L387.9,475.8 L388.2,473.6 L388.7,472.0 L388.8,471.3 L388.9,470.2 L388.9,467.9 L389.4,466.6 L389.3,465.5 L389.4,463.9 L389.6,462.6 L390.1,460.6 L390.4,459.8 L390.6,457.7 L390.6,456.2 L392.0,454.5 L392.3,453.4 L393.1,452.1 L393.3,452.9 L393.1,454.3 L393.7,455.9 L393.8,457.4 L393.8,458.7 L394.0,460.0 L394.4,461.7 L394.2,462.6 L394.6,465.0 L394.6,465.5 L395.0,467.6 L395.1,468.4 L395.0,470.6 L395.4,471.8 L395.4,472.9 L395.3,474.7 L395.6,475.8 L396.0,477.1 L395.8,478.7 L396.1,480.5 L396.1,481.6 L396.5,483.2 L396.7,484.2 L396.7,486.6 L396.7,487.9 L397.1,489.5 L397.1,490.7 L397.3,491.6 L397.2,493.5 L397.5,494.3 L397.5,495.5 L397.6,496.8 L397.9,498.0 L398.2,499.7 L398.1,500.9 L398.6,502.9 L398.8,504.0 L399.0,505.1 L399.2,506.5 L399.5,508.2 L400.0,509.6 L400.5,510.8 L401.9,512.3 Z" fill="#c4c4c4" stroke="#555" stroke-width="1.0" stroke-linejoin="round"/>
<path d="M367.3,512.3 L368.0,510.9 L368.7,509.4 L369.8,508.1 L370.7,507.0 L371.7,505.9 L372.5,504.4 L373.2,503.0 L373.5,502.3 L374.3,500.9 L374.5,498.6 L375.0,497.9 L375.0,495.9 L375.6,495.1 L375.5,492.9 L375.9,492.2 L376.4,490.4 L376.6,489.4 L376.9,488.2 L377.1,486.7 L377.1,485.1 L377.7,484.0 L377.8,481.9 L377.9,480.1 L378.1,479.4 L378.5,477.7 L378.5,475.9 L378.7,474.4 L379.0,473.9 L379.3,471.5 L379.4,470.7 L379.5,468.9 L379.8,467.3 L380.1,465.7 L380.2,464.4 L380.2,463.4 L380.4,461.7 L380.8,460.3 L380.8,459.2 L381.0,457.8 L381.1,455.9 L381.7,455.4 L381.8,453.0 L382.2,452.4 L382.5,452.9 L383.3,454.6 L383.7,452.9 L384.1,452.4 L384.2,453.9 L384.4,455.2 L384.5,456.2 L384.9,457.9 L385.0,458.6 L385.2,460.8 L385.2,461.5 L385.3,463.6 L385.6,465.1 L385.9,466.0 L386.1,467.7 L386.4,469.4 L386.7,471.0 L386.7,472.1 L387.0,473.8 L387.3,474.3 L387.7,476.0 L388.2,477.4 L388.5,479.0 L388.7,480.2 L389.2,480.6 L389.4,482.9 L389.7,484.1 L390.0,484.9 L390.0,485.8 L390.1,487.8 L390.4,488.9 L390.6,489.9 L390.9,491.8 L391.1,493.0 L391.2,494.2 L391.4,495.3 L391.6,497.3 L392.2,498.9 L392.7,500.2 L392.8,501.6 L394.7,503.6 L395.4,505.0 L396.3,506.7 L397.2,507.8 L397.7,508.9 L398.4,510.0 L399.7,511.2 L401.0,512.3" fill="none" stroke="#444" stroke-width="1.05" stroke-linejoin="round"/>
<path d="M367.8,512.3 L368.5,511.0 L369.3,509.6 L370.4,508.2 L371.4,507.2 L372.0,505.6 L373.1,504.7 L373.4,503.8 L374.2,502.5 L374.9,501.1 L375.2,498.7 L375.2,497.6 L375.4,496.2 L375.9,495.1 L376.1,492.9 L376.6,491.9 L376.6,490.3 L376.8,489.0 L377.5,487.6 L377.5,486.0 L377.7,485.3 L377.9,483.1 L378.4,482.2 L378.3,480.9 L378.5,479.0 L378.8,477.8 L379.1,476.6 L379.1,475.0 L379.3,473.5 L379.8,471.6 L379.7,470.2 L379.9,469.4 L380.3,467.5 L380.2,466.7 L380.4,465.0 L380.7,463.7 L380.9,461.5 L381.0,460.6 L381.4,458.9 L381.7,458.0 L381.9,456.2 L382.0,454.5 L382.1,453.3 L382.3,451.6 L383.1,453.9 L383.8,454.5 L384.3,453.7 L384.4,452.6 L384.7,453.2 L385.0,454.7 L385.3,456.0 L385.5,457.5 L385.5,459.5 L385.4,460.2 L386.0,462.3 L385.8,463.2 L386.1,464.9 L386.5,465.9 L386.7,467.9 L386.9,468.5 L387.2,470.6 L387.6,471.5 L387.5,472.9 L388.1,474.8 L388.1,476.1 L388.6,476.9 L389.0,478.6 L389.3,479.3 L389.5,480.8 L390.0,482.0 L390.2,483.4 L390.2,484.7 L390.5,486.1 L391.0,487.4 L391.1,489.0 L391.4,490.3 L391.3,491.5 L391.4,492.7 L391.7,494.8 L392.1,495.9 L391.9,497.1 L392.6,498.8 L392.9,500.5 L393.5,501.0 L395.0,503.5 L396.2,505.2 L396.9,506.3 L397.6,507.5 L398.3,508.7 L399.0,510.0 L400.3,511.2 L401.6,512.3" fill="none" stroke="#222" stroke-width="1.0" stroke-linejoin="round"/>
<path d="M375.6,512.3 L377.3,511.6 L379.1,510.9 L380.3,509.6 L381.6,508.1 L382.1,506.5 L383.0,505.2 L383.4,504.0 L383.8,503.1 L383.8,501.3 L384.2,499.9 L384.3,499.0 L384.9,497.0 L385.0,495.8 L385.1,494.5 L385.6,493.1 L385.5,490.8 L385.7,489.7 L385.9,488.5 L386.4,487.2 L386.5,486.0 L386.7,483.8 L386.8,483.0 L386.9,481.4 L387.1,480.1 L387.3,478.4 L387.4,476.9 L387.9,475.3 L388.1,473.8 L388.3,472.9 L388.3,471.3 L388.8,469.7 L388.8,468.8 L389.1,466.8 L389.2,465.4 L389.2,463.5 L389.5,462.8 L389.7,461.3 L389.8,459.9 L390.3,457.7 L390.6,456.5 L391.6,454.7 L392.3,453.6 L393.1,451.2 L393.7,453.0 L393.8,455.0 L394.1,455.6 L394.0,456.9 L394.2,459.1 L394.3,460.1 L394.4,461.1 L394.5,462.6 L394.7,464.0 L395.0,466.0 L395.3,467.7 L395.3,468.9 L395.2,469.7 L395.7,472.1 L395.9,473.0 L395.7,475.0 L395.8,475.6 L395.9,477.0 L396.2,479.0 L396.4,480.8 L396.7,481.9 L396.9,483.4 L396.9,484.2 L397.2,486.2 L397.1,487.5 L397.4,488.8 L397.3,490.4 L397.4,492.4 L397.8,493.2 L397.8,494.9 L398.1,495.9 L398.3,496.6 L398.3,498.7 L398.3,499.3 L398.5,501.4 L398.7,501.9 L399.0,503.8 L399.3,505.0 L399.6,506.8 L399.9,508.3 L400.3,509.6 L400.9,510.9 L402.2,512.3" fill="none" stroke="#111" stroke-width="1.2" stroke-linejoin="round"/>
<line x1="441.5" y1="451.8" x2="457" y2="451.8" stroke="#5a5a5a" stroke-width="1.2"/>
<line x1="441.5" y1="466.5" x2="457" y2="466.5" stroke="#444" stroke-width="1.3"/>
<line x1="441.5" y1="480.9" x2="457" y2="480.9" stroke="#181818" stroke-width="1.7"/>
<text x="465.7" y="452.5" font-family="Liberation Serif, serif" font-size="9.75" text-anchor="start" fill="#222" >unstimulated</text>
<text x="465.7" y="469" font-family="Liberation Serif, serif" font-size="10" text-anchor="start" fill="#222" >HTLV-1</text>
<text x="466.9" y="483" font-family="Liberation Serif, serif" font-size="10" text-anchor="start" fill="#222" >HTLV-1</text>
<text x="470" y="495.3" font-family="Liberation Serif, serif" font-size="9.8" text-anchor="start" fill="#222" >+serum</text>
<line x1="56" y1="554.5" x2="56" y2="650" stroke="#111" stroke-width="1.2"/>
<line x1="55.4" y1="649.6" x2="188" y2="649.6" stroke="#111" stroke-width="1.3"/>
<text x="54" y="652.5" font-family="Liberation Sans, sans-serif" font-size="8.5" text-anchor="end" fill="#111" >0</text>
<text x="54" y="639.0" font-family="Liberation Sans, sans-serif" font-size="8.5" text-anchor="end" fill="#111" >5</text>
<text x="54" y="625.5" font-family="Liberation Sans, sans-serif" font-size="8.5" text-anchor="end" fill="#111" >10</text>
<text x="54" y="612.0" font-family="Liberation Sans, sans-serif" font-size="8.5" text-anchor="end" fill="#111" >15</text>
<text x="54" y="598.5" font-family="Liberation Sans, sans-serif" font-size="8.5" text-anchor="end" fill="#111" >20</text>
<text x="54" y="585.0" font-family="Liberation Sans, sans-serif" font-size="8.5" text-anchor="end" fill="#111" >25</text>
<text x="54" y="571.5" font-family="Liberation Sans, sans-serif" font-size="8.5" text-anchor="end" fill="#111" >30</text>
<text x="54" y="558.0" font-family="Liberation Sans, sans-serif" font-size="8.5" text-anchor="end" fill="#111" >35</text>
<text transform="translate(39.2,601.5) rotate(-90)" font-family="Liberation Serif, serif" font-size="9.6" font-weight="bold" text-anchor="middle" fill="#111">Dead cells (%)</text>
<rect x="66" y="646.5" width="14" height="2.7000000000000455" fill="#808080" stroke="#222" stroke-width="0.9"/>
<rect x="99" y="642.5" width="13" height="6.7000000000000455" fill="#808080" stroke="#222" stroke-width="0.9"/>
<rect x="131" y="646.5" width="14.5" height="2.7000000000000455" fill="#808080" stroke="#222" stroke-width="0.9"/>
<rect x="164.5" y="568.4" width="12.800000000000011" height="80.80000000000007" fill="#808080" stroke="#222" stroke-width="0.9"/>
<line x1="105.5" y1="642.5" x2="105.5" y2="638.5" stroke="#111" stroke-width="1"/><line x1="104" y1="638.5" x2="107" y2="638.5" stroke="#111" stroke-width="1"/>
<line x1="171" y1="568.4" x2="171" y2="560" stroke="#111" stroke-width="1.1"/><line x1="168.5" y1="560" x2="173.5" y2="560" stroke="#111" stroke-width="1.1"/>
<text x="170.6" y="557" font-family="Liberation Serif, serif" font-size="8" font-weight="bold" text-anchor="middle" fill="#111" >***</text>
<line x1="89" y1="649.5" x2="89" y2="658" stroke="#222" stroke-width="1"/>
<line x1="122.6" y1="649.5" x2="122.6" y2="689" stroke="#222" stroke-width="1"/>
<line x1="154.4" y1="649.5" x2="154.4" y2="655.5" stroke="#222" stroke-width="1"/>
<text x="70" y="659" font-family="Liberation Serif, serif" font-size="7.8" text-anchor="middle" fill="#505050" >Unst</text>
<text x="70" y="668" font-family="Liberation Serif, serif" font-size="7.8" text-anchor="middle" fill="#505050" >PDC</text>
<text x="101" y="658.5" font-family="Liberation Serif, serif" font-size="7.8" text-anchor="middle" fill="#505050" >PDC +</text>
<text x="101" y="668" font-family="Liberation Serif, serif" font-size="7.8" text-anchor="middle" fill="#505050" >HTLV-1</text>
<text x="135.6" y="659" font-family="Liberation Serif, serif" font-size="7.8" text-anchor="middle" fill="#505050" >Unst</text>
<text x="135.6" y="668" font-family="Liberation Serif, serif" font-size="7.8" text-anchor="middle" fill="#505050" >PDC</text>
<text x="172" y="659" font-family="Liberation Serif, serif" font-size="7.8" text-anchor="middle" fill="#505050" >PDC+</text>
<text x="172" y="668" font-family="Liberation Serif, serif" font-size="7.8" text-anchor="middle" fill="#505050" >HTLV-1</text>
<text x="89" y="680.5" font-family="Liberation Serif, serif" font-size="10" font-weight="bold" text-anchor="middle" fill="#111" >LTCD4 DR5-</text>
<text x="156.5" y="680.5" font-family="Liberation Serif, serif" font-size="10" font-weight="bold" text-anchor="middle" fill="#111" >LTCD DR5+</text>
</svg>
</body></html>
